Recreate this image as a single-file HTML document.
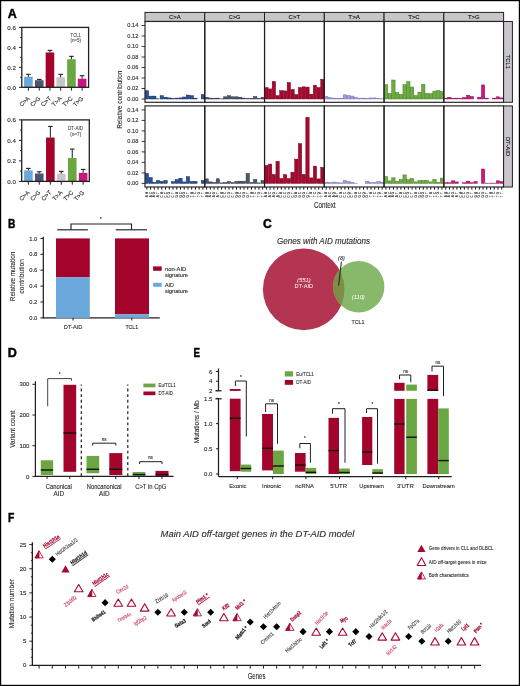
<!DOCTYPE html>
<html><head><meta charset="utf-8"><style>
html,body{margin:0;padding:0;background:#fff;overflow:hidden;}
svg{display:block;will-change:transform;}
text{font-family:"Liberation Sans", sans-serif;}
text.s{stroke-width:0.25px;}
</style></head><body>
<svg width="520" height="686" viewBox="0 0 520 686" font-family='"Liberation Sans", sans-serif'>
<rect x="0" y="0" width="520" height="686" fill="#fff"/>
<text x="7.7" y="17.6" font-size="12.4" font-weight="bold" fill="#000" textLength="9" lengthAdjust="spacingAndGlyphs" stroke="#000" stroke-width="0.45">A</text>
<text x="7.9" y="227.7" font-size="12.4" font-weight="bold" fill="#000" textLength="7.4" lengthAdjust="spacingAndGlyphs" stroke="#000" stroke-width="0.45">B</text>
<text x="262.9" y="228" font-size="12.4" font-weight="bold" fill="#000" textLength="8.8" lengthAdjust="spacingAndGlyphs" stroke="#000" stroke-width="0.45">C</text>
<text x="7.7" y="356.8" font-size="12.4" font-weight="bold" fill="#000" textLength="9.1" lengthAdjust="spacingAndGlyphs" stroke="#000" stroke-width="0.45">D</text>
<text x="193.5" y="356.8" font-size="12.4" font-weight="bold" fill="#000" textLength="6.5" lengthAdjust="spacingAndGlyphs" stroke="#000" stroke-width="0.45">E</text>
<text x="8" y="522.4" font-size="12.4" font-weight="bold" fill="#000" textLength="6.3" lengthAdjust="spacingAndGlyphs" stroke="#000" stroke-width="0.45">F</text>
<rect x="24.1" y="76.72" width="8.6" height="10.58" fill="#6aa8dc" />
<line x1="28.4" y1="76.72" x2="28.4" y2="74.32" stroke="#231f20" stroke-width="1" />
<line x1="26.1" y1="74.32" x2="30.7" y2="74.32" stroke="#231f20" stroke-width="1.1" />
<rect x="34.95" y="80.21" width="8.6" height="7.09" fill="#4b566c" />
<line x1="39.25" y1="80.21" x2="39.25" y2="79.41" stroke="#231f20" stroke-width="1" />
<line x1="36.95" y1="79.41" x2="41.55" y2="79.41" stroke="#231f20" stroke-width="1.1" />
<rect x="45.65" y="52.46" width="8.6" height="34.84" fill="#a3042b" />
<line x1="49.95" y1="52.46" x2="49.95" y2="50.36" stroke="#231f20" stroke-width="1" />
<line x1="47.65" y1="50.36" x2="52.25" y2="50.36" stroke="#231f20" stroke-width="1.1" />
<rect x="56.35" y="77.32" width="8.6" height="9.98" fill="#c8c6cb" />
<line x1="60.65" y1="77.32" x2="60.65" y2="74.32" stroke="#231f20" stroke-width="1" />
<line x1="58.35" y1="74.32" x2="62.95" y2="74.32" stroke="#231f20" stroke-width="1.1" />
<rect x="67.15" y="59.25" width="8.6" height="28.05" fill="#6aa642" />
<line x1="71.45" y1="59.25" x2="71.45" y2="56.35" stroke="#231f20" stroke-width="1" />
<line x1="69.15" y1="56.35" x2="73.75" y2="56.35" stroke="#231f20" stroke-width="1.1" />
<rect x="77.8" y="78.71" width="8.6" height="8.59" fill="#c8157f" />
<line x1="82.1" y1="78.71" x2="82.1" y2="75.72" stroke="#231f20" stroke-width="1" />
<line x1="79.8" y1="75.72" x2="84.4" y2="75.72" stroke="#231f20" stroke-width="1.1" />
<rect x="21.8" y="27.4" width="66.8" height="59.9" fill="none" stroke="#231f20" stroke-width="1.3" />
<line x1="19" y1="87.3" x2="21.8" y2="87.3" stroke="#231f20" stroke-width="1" />
<text x="15.9" y="89.5" font-size="6.2" text-anchor="end" fill="#2b2b2b" stroke="#2b2b2b" stroke-width="0.12" textLength="8.6" lengthAdjust="spacingAndGlyphs">0.0</text>
<line x1="20.2" y1="77.32" x2="21.8" y2="77.32" stroke="#231f20" stroke-width="1" />
<line x1="19" y1="67.33" x2="21.8" y2="67.33" stroke="#231f20" stroke-width="1" />
<text x="15.9" y="69.53" font-size="6.2" text-anchor="end" fill="#2b2b2b" stroke="#2b2b2b" stroke-width="0.12" textLength="8.6" lengthAdjust="spacingAndGlyphs">0.2</text>
<line x1="20.2" y1="57.35" x2="21.8" y2="57.35" stroke="#231f20" stroke-width="1" />
<line x1="19" y1="47.37" x2="21.8" y2="47.37" stroke="#231f20" stroke-width="1" />
<text x="15.9" y="49.57" font-size="6.2" text-anchor="end" fill="#2b2b2b" stroke="#2b2b2b" stroke-width="0.12" textLength="8.6" lengthAdjust="spacingAndGlyphs">0.4</text>
<line x1="20.2" y1="37.38" x2="21.8" y2="37.38" stroke="#231f20" stroke-width="1" />
<line x1="19" y1="27.4" x2="21.8" y2="27.4" stroke="#231f20" stroke-width="1" />
<text x="15.9" y="29.6" font-size="6.2" text-anchor="end" fill="#2b2b2b" stroke="#2b2b2b" stroke-width="0.12" textLength="8.6" lengthAdjust="spacingAndGlyphs">0.6</text>
<line x1="28.4" y1="87.3" x2="28.4" y2="90.6" stroke="#231f20" stroke-width="1" />
<text x="30" y="98.9" font-size="6" text-anchor="end" fill="#2b2b2b" stroke="#2b2b2b" stroke-width="0.12" transform="rotate(-45 30 98.9)" textLength="11.6" lengthAdjust="spacingAndGlyphs">C&gt;A</text>
<line x1="39.25" y1="87.3" x2="39.25" y2="90.6" stroke="#231f20" stroke-width="1" />
<text x="40.85" y="98.9" font-size="6" text-anchor="end" fill="#2b2b2b" stroke="#2b2b2b" stroke-width="0.12" transform="rotate(-45 40.85 98.9)" textLength="11.6" lengthAdjust="spacingAndGlyphs">C&gt;G</text>
<line x1="49.95" y1="87.3" x2="49.95" y2="90.6" stroke="#231f20" stroke-width="1" />
<text x="51.55" y="98.9" font-size="6" text-anchor="end" fill="#2b2b2b" stroke="#2b2b2b" stroke-width="0.12" transform="rotate(-45 51.55 98.9)" textLength="11.6" lengthAdjust="spacingAndGlyphs">C&gt;T</text>
<line x1="60.65" y1="87.3" x2="60.65" y2="90.6" stroke="#231f20" stroke-width="1" />
<text x="62.25" y="98.9" font-size="6" text-anchor="end" fill="#2b2b2b" stroke="#2b2b2b" stroke-width="0.12" transform="rotate(-45 62.25 98.9)" textLength="11.6" lengthAdjust="spacingAndGlyphs">T&gt;A</text>
<line x1="71.45" y1="87.3" x2="71.45" y2="90.6" stroke="#231f20" stroke-width="1" />
<text x="73.05" y="98.9" font-size="6" text-anchor="end" fill="#2b2b2b" stroke="#2b2b2b" stroke-width="0.12" transform="rotate(-45 73.05 98.9)" textLength="11.6" lengthAdjust="spacingAndGlyphs">T&gt;C</text>
<line x1="82.1" y1="87.3" x2="82.1" y2="90.6" stroke="#231f20" stroke-width="1" />
<text x="83.7" y="98.9" font-size="6" text-anchor="end" fill="#2b2b2b" stroke="#2b2b2b" stroke-width="0.12" transform="rotate(-45 83.7 98.9)" textLength="11.6" lengthAdjust="spacingAndGlyphs">T&gt;G</text>
<text x="70.6" y="36.8" font-size="4.8" fill="#555" stroke="#555" stroke-width="0.12" textLength="10.3" lengthAdjust="spacingAndGlyphs">TCL1</text>
<text x="70.4" y="42.4" font-size="4.8" fill="#555" stroke="#555" stroke-width="0.12" textLength="10.6" lengthAdjust="spacingAndGlyphs">(n=5)</text>
<rect x="24.1" y="170.43" width="8.6" height="10.97" fill="#6aa8dc" />
<line x1="28.4" y1="170.43" x2="28.4" y2="168.38" stroke="#231f20" stroke-width="1" />
<line x1="26.1" y1="168.38" x2="30.7" y2="168.38" stroke="#231f20" stroke-width="1.1" />
<rect x="34.95" y="173.51" width="8.6" height="7.89" fill="#4b566c" />
<line x1="39.25" y1="173.51" x2="39.25" y2="171.77" stroke="#231f20" stroke-width="1" />
<line x1="36.95" y1="171.77" x2="41.55" y2="171.77" stroke="#231f20" stroke-width="1.1" />
<rect x="46.05" y="137.53" width="8.6" height="43.87" fill="#a3042b" />
<line x1="50.35" y1="137.53" x2="50.35" y2="126.46" stroke="#231f20" stroke-width="1" />
<line x1="48.05" y1="126.46" x2="52.65" y2="126.46" stroke="#231f20" stroke-width="1.1" />
<rect x="56.95" y="173.71" width="8.6" height="7.69" fill="#c8c6cb" />
<line x1="61.25" y1="173.71" x2="61.25" y2="171.36" stroke="#231f20" stroke-width="1" />
<line x1="58.95" y1="171.36" x2="63.55" y2="171.36" stroke="#231f20" stroke-width="1.1" />
<rect x="67.95" y="158.03" width="8.6" height="23.37" fill="#6aa642" />
<line x1="72.25" y1="158.03" x2="72.25" y2="149.11" stroke="#231f20" stroke-width="1" />
<line x1="69.95" y1="149.11" x2="74.55" y2="149.11" stroke="#231f20" stroke-width="1.1" />
<rect x="78.85" y="172.89" width="8.6" height="8.51" fill="#c8157f" />
<line x1="83.15" y1="172.89" x2="83.15" y2="169.41" stroke="#231f20" stroke-width="1" />
<line x1="80.85" y1="169.41" x2="85.45" y2="169.41" stroke="#231f20" stroke-width="1.1" />
<rect x="21.7" y="119.9" width="67.6" height="61.5" fill="none" stroke="#231f20" stroke-width="1.3" />
<line x1="18.9" y1="181.4" x2="21.7" y2="181.4" stroke="#231f20" stroke-width="1" />
<text x="15.9" y="183.6" font-size="6.2" text-anchor="end" fill="#2b2b2b" stroke="#2b2b2b" stroke-width="0.12" textLength="8.6" lengthAdjust="spacingAndGlyphs">0.0</text>
<line x1="20.1" y1="171.15" x2="21.7" y2="171.15" stroke="#231f20" stroke-width="1" />
<line x1="18.9" y1="160.9" x2="21.7" y2="160.9" stroke="#231f20" stroke-width="1" />
<text x="15.9" y="163.1" font-size="6.2" text-anchor="end" fill="#2b2b2b" stroke="#2b2b2b" stroke-width="0.12" textLength="8.6" lengthAdjust="spacingAndGlyphs">0.2</text>
<line x1="20.1" y1="150.65" x2="21.7" y2="150.65" stroke="#231f20" stroke-width="1" />
<line x1="18.9" y1="140.4" x2="21.7" y2="140.4" stroke="#231f20" stroke-width="1" />
<text x="15.9" y="142.6" font-size="6.2" text-anchor="end" fill="#2b2b2b" stroke="#2b2b2b" stroke-width="0.12" textLength="8.6" lengthAdjust="spacingAndGlyphs">0.4</text>
<line x1="20.1" y1="130.15" x2="21.7" y2="130.15" stroke="#231f20" stroke-width="1" />
<line x1="18.9" y1="119.9" x2="21.7" y2="119.9" stroke="#231f20" stroke-width="1" />
<text x="15.9" y="122.1" font-size="6.2" text-anchor="end" fill="#2b2b2b" stroke="#2b2b2b" stroke-width="0.12" textLength="8.6" lengthAdjust="spacingAndGlyphs">0.6</text>
<line x1="28.4" y1="181.4" x2="28.4" y2="184.7" stroke="#231f20" stroke-width="1" />
<text x="30" y="193" font-size="6" text-anchor="end" fill="#2b2b2b" stroke="#2b2b2b" stroke-width="0.12" transform="rotate(-45 30 193)" textLength="11.6" lengthAdjust="spacingAndGlyphs">C&gt;A</text>
<line x1="39.25" y1="181.4" x2="39.25" y2="184.7" stroke="#231f20" stroke-width="1" />
<text x="40.85" y="193" font-size="6" text-anchor="end" fill="#2b2b2b" stroke="#2b2b2b" stroke-width="0.12" transform="rotate(-45 40.85 193)" textLength="11.6" lengthAdjust="spacingAndGlyphs">C&gt;G</text>
<line x1="50.35" y1="181.4" x2="50.35" y2="184.7" stroke="#231f20" stroke-width="1" />
<text x="51.95" y="193" font-size="6" text-anchor="end" fill="#2b2b2b" stroke="#2b2b2b" stroke-width="0.12" transform="rotate(-45 51.95 193)" textLength="11.6" lengthAdjust="spacingAndGlyphs">C&gt;T</text>
<line x1="61.25" y1="181.4" x2="61.25" y2="184.7" stroke="#231f20" stroke-width="1" />
<text x="62.85" y="193" font-size="6" text-anchor="end" fill="#2b2b2b" stroke="#2b2b2b" stroke-width="0.12" transform="rotate(-45 62.85 193)" textLength="11.6" lengthAdjust="spacingAndGlyphs">T&gt;A</text>
<line x1="72.25" y1="181.4" x2="72.25" y2="184.7" stroke="#231f20" stroke-width="1" />
<text x="73.85" y="193" font-size="6" text-anchor="end" fill="#2b2b2b" stroke="#2b2b2b" stroke-width="0.12" transform="rotate(-45 73.85 193)" textLength="11.6" lengthAdjust="spacingAndGlyphs">T&gt;C</text>
<line x1="83.15" y1="181.4" x2="83.15" y2="184.7" stroke="#231f20" stroke-width="1" />
<text x="84.75" y="193" font-size="6" text-anchor="end" fill="#2b2b2b" stroke="#2b2b2b" stroke-width="0.12" transform="rotate(-45 84.75 193)" textLength="11.6" lengthAdjust="spacingAndGlyphs">T&gt;G</text>
<text x="68" y="130" font-size="4.8" fill="#555" stroke="#555" stroke-width="0.12" textLength="15.1" lengthAdjust="spacingAndGlyphs">DT-AID</text>
<text x="70.2" y="135.6" font-size="4.8" fill="#555" stroke="#555" stroke-width="0.12" textLength="11" lengthAdjust="spacingAndGlyphs">(n=7)</text>
<rect x="145.2" y="90.7" width="3.34" height="8.3" fill="#2a5298" stroke="#0c2358" stroke-width="0.45" />
<rect x="148.94" y="96.1" width="3.34" height="2.9" fill="#2a5298" stroke="#0c2358" stroke-width="0.45" />
<rect x="152.67" y="96.1" width="3.34" height="2.9" fill="#2a5298" stroke="#0c2358" stroke-width="0.45" />
<rect x="156.41" y="98.8" width="3.34" height="0.2" fill="#2a5298" stroke="#0c2358" stroke-width="0.45" />
<rect x="160.14" y="95.7" width="3.34" height="3.3" fill="#2a5298" stroke="#0c2358" stroke-width="0.45" />
<rect x="163.88" y="97.2" width="3.34" height="1.8" fill="#2a5298" stroke="#0c2358" stroke-width="0.45" />
<rect x="167.61" y="97.9" width="3.34" height="1.1" fill="#2a5298" stroke="#0c2358" stroke-width="0.45" />
<rect x="171.35" y="98.5" width="3.34" height="0.5" fill="#2a5298" stroke="#0c2358" stroke-width="0.45" />
<rect x="175.08" y="98.1" width="3.34" height="0.9" fill="#2a5298" stroke="#0c2358" stroke-width="0.45" />
<rect x="178.82" y="97.9" width="3.34" height="1.1" fill="#2a5298" stroke="#0c2358" stroke-width="0.45" />
<rect x="182.55" y="97" width="3.34" height="2" fill="#2a5298" stroke="#0c2358" stroke-width="0.45" />
<rect x="186.29" y="95" width="3.34" height="4" fill="#2a5298" stroke="#0c2358" stroke-width="0.45" />
<rect x="190.02" y="95.7" width="3.34" height="3.3" fill="#2a5298" stroke="#0c2358" stroke-width="0.45" />
<rect x="193.76" y="98.1" width="3.34" height="0.9" fill="#2a5298" stroke="#0c2358" stroke-width="0.45" />
<rect x="197.5" y="99.1" width="3.34" height="-0.1" fill="#2a5298" stroke="#0c2358" stroke-width="0.45" />
<rect x="201.23" y="94.5" width="3.34" height="4.5" fill="#2a5298" stroke="#0c2358" stroke-width="0.45" />
<rect x="145" y="21.5" width="59.77" height="80.8" fill="none" stroke="#231f20" stroke-width="1.15" />
<rect x="204.97" y="97.2" width="3.34" height="1.8" fill="#4e586c" stroke="#23293a" stroke-width="0.45" />
<rect x="208.7" y="98.1" width="3.34" height="0.9" fill="#4e586c" stroke="#23293a" stroke-width="0.45" />
<rect x="212.44" y="98.4" width="3.34" height="0.6" fill="#4e586c" stroke="#23293a" stroke-width="0.45" />
<rect x="216.17" y="98.1" width="3.34" height="0.9" fill="#4e586c" stroke="#23293a" stroke-width="0.45" />
<rect x="219.91" y="98.8" width="3.34" height="0.2" fill="#4e586c" stroke="#23293a" stroke-width="0.45" />
<rect x="223.64" y="96.8" width="3.34" height="2.2" fill="#4e586c" stroke="#23293a" stroke-width="0.45" />
<rect x="227.38" y="95.7" width="3.34" height="3.3" fill="#4e586c" stroke="#23293a" stroke-width="0.45" />
<rect x="231.11" y="96.8" width="3.34" height="2.2" fill="#4e586c" stroke="#23293a" stroke-width="0.45" />
<rect x="234.85" y="96.8" width="3.34" height="2.2" fill="#4e586c" stroke="#23293a" stroke-width="0.45" />
<rect x="238.59" y="97.2" width="3.34" height="1.8" fill="#4e586c" stroke="#23293a" stroke-width="0.45" />
<rect x="242.32" y="98.1" width="3.34" height="0.9" fill="#4e586c" stroke="#23293a" stroke-width="0.45" />
<rect x="246.06" y="98.5" width="3.34" height="0.5" fill="#4e586c" stroke="#23293a" stroke-width="0.45" />
<rect x="249.79" y="98.5" width="3.34" height="0.5" fill="#4e586c" stroke="#23293a" stroke-width="0.45" />
<rect x="253.53" y="96.5" width="3.34" height="2.5" fill="#4e586c" stroke="#23293a" stroke-width="0.45" />
<rect x="257.26" y="98.5" width="3.34" height="0.5" fill="#4e586c" stroke="#23293a" stroke-width="0.45" />
<rect x="261" y="97.2" width="3.34" height="1.8" fill="#4e586c" stroke="#23293a" stroke-width="0.45" />
<rect x="204.77" y="21.5" width="59.77" height="80.8" fill="none" stroke="#231f20" stroke-width="1.15" />
<rect x="264.73" y="87.5" width="3.34" height="11.5" fill="#a8072f" stroke="#6a0018" stroke-width="0.45" />
<rect x="268.47" y="88.9" width="3.34" height="10.1" fill="#a8072f" stroke="#6a0018" stroke-width="0.45" />
<rect x="272.2" y="81.5" width="3.34" height="17.5" fill="#a8072f" stroke="#6a0018" stroke-width="0.45" />
<rect x="275.94" y="95.6" width="3.34" height="3.4" fill="#a8072f" stroke="#6a0018" stroke-width="0.45" />
<rect x="279.68" y="90.6" width="3.34" height="8.4" fill="#a8072f" stroke="#6a0018" stroke-width="0.45" />
<rect x="283.41" y="90.9" width="3.34" height="8.1" fill="#a8072f" stroke="#6a0018" stroke-width="0.45" />
<rect x="287.15" y="82.5" width="3.34" height="16.5" fill="#a8072f" stroke="#6a0018" stroke-width="0.45" />
<rect x="290.88" y="89.5" width="3.34" height="9.5" fill="#a8072f" stroke="#6a0018" stroke-width="0.45" />
<rect x="294.62" y="94.6" width="3.34" height="4.4" fill="#a8072f" stroke="#6a0018" stroke-width="0.45" />
<rect x="298.35" y="87.5" width="3.34" height="11.5" fill="#a8072f" stroke="#6a0018" stroke-width="0.45" />
<rect x="302.09" y="86.8" width="3.34" height="12.2" fill="#a8072f" stroke="#6a0018" stroke-width="0.45" />
<rect x="305.82" y="87.1" width="3.34" height="11.9" fill="#a8072f" stroke="#6a0018" stroke-width="0.45" />
<rect x="309.56" y="94.2" width="3.34" height="4.8" fill="#a8072f" stroke="#6a0018" stroke-width="0.45" />
<rect x="313.29" y="85.2" width="3.34" height="13.8" fill="#a8072f" stroke="#6a0018" stroke-width="0.45" />
<rect x="317.03" y="87.5" width="3.34" height="11.5" fill="#a8072f" stroke="#6a0018" stroke-width="0.45" />
<rect x="320.76" y="79.4" width="3.34" height="19.6" fill="#a8072f" stroke="#6a0018" stroke-width="0.45" />
<rect x="264.53" y="21.5" width="59.77" height="80.8" fill="none" stroke="#231f20" stroke-width="1.15" />
<rect x="324.5" y="96.5" width="3.34" height="2.5" fill="#a09cd8" stroke="#6e6ab0" stroke-width="0.45" />
<rect x="328.24" y="97.5" width="3.34" height="1.5" fill="#a09cd8" stroke="#6e6ab0" stroke-width="0.45" />
<rect x="331.97" y="98.1" width="3.34" height="0.9" fill="#a09cd8" stroke="#6e6ab0" stroke-width="0.45" />
<rect x="335.71" y="98.5" width="3.34" height="0.5" fill="#a09cd8" stroke="#6e6ab0" stroke-width="0.45" />
<rect x="339.44" y="98.4" width="3.34" height="0.6" fill="#a09cd8" stroke="#6e6ab0" stroke-width="0.45" />
<rect x="343.18" y="94.8" width="3.34" height="4.2" fill="#a09cd8" stroke="#6e6ab0" stroke-width="0.45" />
<rect x="346.91" y="95.6" width="3.34" height="3.4" fill="#a09cd8" stroke="#6e6ab0" stroke-width="0.45" />
<rect x="350.65" y="96.1" width="3.34" height="2.9" fill="#a09cd8" stroke="#6e6ab0" stroke-width="0.45" />
<rect x="354.38" y="97.5" width="3.34" height="1.5" fill="#a09cd8" stroke="#6e6ab0" stroke-width="0.45" />
<rect x="358.12" y="98.1" width="3.34" height="0.9" fill="#a09cd8" stroke="#6e6ab0" stroke-width="0.45" />
<rect x="361.85" y="98.1" width="3.34" height="0.9" fill="#a09cd8" stroke="#6e6ab0" stroke-width="0.45" />
<rect x="365.59" y="98.5" width="3.34" height="0.5" fill="#a09cd8" stroke="#6e6ab0" stroke-width="0.45" />
<rect x="369.32" y="97.9" width="3.34" height="1.1" fill="#a09cd8" stroke="#6e6ab0" stroke-width="0.45" />
<rect x="373.06" y="97.9" width="3.34" height="1.1" fill="#a09cd8" stroke="#6e6ab0" stroke-width="0.45" />
<rect x="376.8" y="98.5" width="3.34" height="0.5" fill="#a09cd8" stroke="#6e6ab0" stroke-width="0.45" />
<rect x="380.53" y="98.8" width="3.34" height="0.2" fill="#a09cd8" stroke="#6e6ab0" stroke-width="0.45" />
<rect x="324.3" y="21.5" width="59.77" height="80.8" fill="none" stroke="#231f20" stroke-width="1.15" />
<rect x="384.27" y="84.7" width="3.34" height="14.3" fill="#6dad40" stroke="#3b7220" stroke-width="0.45" />
<rect x="388" y="93.4" width="3.34" height="5.6" fill="#6dad40" stroke="#3b7220" stroke-width="0.45" />
<rect x="391.74" y="80" width="3.34" height="19" fill="#6dad40" stroke="#3b7220" stroke-width="0.45" />
<rect x="395.47" y="92.5" width="3.34" height="6.5" fill="#6dad40" stroke="#3b7220" stroke-width="0.45" />
<rect x="399.21" y="94.4" width="3.34" height="4.6" fill="#6dad40" stroke="#3b7220" stroke-width="0.45" />
<rect x="402.94" y="84.7" width="3.34" height="14.3" fill="#6dad40" stroke="#3b7220" stroke-width="0.45" />
<rect x="406.68" y="81.7" width="3.34" height="17.3" fill="#6dad40" stroke="#3b7220" stroke-width="0.45" />
<rect x="410.41" y="87" width="3.34" height="12" fill="#6dad40" stroke="#3b7220" stroke-width="0.45" />
<rect x="414.15" y="95.7" width="3.34" height="3.3" fill="#6dad40" stroke="#3b7220" stroke-width="0.45" />
<rect x="417.89" y="92.1" width="3.34" height="6.9" fill="#6dad40" stroke="#3b7220" stroke-width="0.45" />
<rect x="421.62" y="84.4" width="3.34" height="14.6" fill="#6dad40" stroke="#3b7220" stroke-width="0.45" />
<rect x="425.36" y="93.4" width="3.34" height="5.6" fill="#6dad40" stroke="#3b7220" stroke-width="0.45" />
<rect x="429.09" y="93.7" width="3.34" height="5.3" fill="#6dad40" stroke="#3b7220" stroke-width="0.45" />
<rect x="432.83" y="91.1" width="3.34" height="7.9" fill="#6dad40" stroke="#3b7220" stroke-width="0.45" />
<rect x="436.56" y="90.7" width="3.34" height="8.3" fill="#6dad40" stroke="#3b7220" stroke-width="0.45" />
<rect x="440.3" y="91.7" width="3.34" height="7.3" fill="#6dad40" stroke="#3b7220" stroke-width="0.45" />
<rect x="384.07" y="21.5" width="59.77" height="80.8" fill="none" stroke="#231f20" stroke-width="1.15" />
<rect x="444.03" y="98.1" width="3.34" height="0.9" fill="#cc1482" stroke="#8a0a55" stroke-width="0.45" />
<rect x="447.77" y="97.2" width="3.34" height="1.8" fill="#cc1482" stroke="#8a0a55" stroke-width="0.45" />
<rect x="451.5" y="98.5" width="3.34" height="0.5" fill="#cc1482" stroke="#8a0a55" stroke-width="0.45" />
<rect x="455.24" y="98.1" width="3.34" height="0.9" fill="#cc1482" stroke="#8a0a55" stroke-width="0.45" />
<rect x="458.98" y="98.5" width="3.34" height="0.5" fill="#cc1482" stroke="#8a0a55" stroke-width="0.45" />
<rect x="462.71" y="97.5" width="3.34" height="1.5" fill="#cc1482" stroke="#8a0a55" stroke-width="0.45" />
<rect x="466.45" y="95.2" width="3.34" height="3.8" fill="#cc1482" stroke="#8a0a55" stroke-width="0.45" />
<rect x="470.18" y="96.5" width="3.34" height="2.5" fill="#cc1482" stroke="#8a0a55" stroke-width="0.45" />
<rect x="477.65" y="97.2" width="3.34" height="1.8" fill="#cc1482" stroke="#8a0a55" stroke-width="0.45" />
<rect x="481.39" y="84.9" width="3.34" height="14.1" fill="#cc1482" stroke="#8a0a55" stroke-width="0.45" />
<rect x="485.12" y="98.1" width="3.34" height="0.9" fill="#cc1482" stroke="#8a0a55" stroke-width="0.45" />
<rect x="492.59" y="98.1" width="3.34" height="0.9" fill="#cc1482" stroke="#8a0a55" stroke-width="0.45" />
<rect x="496.33" y="96.8" width="3.34" height="2.2" fill="#cc1482" stroke="#8a0a55" stroke-width="0.45" />
<rect x="500.06" y="97.9" width="3.34" height="1.1" fill="#cc1482" stroke="#8a0a55" stroke-width="0.45" />
<rect x="443.83" y="21.5" width="59.77" height="80.8" fill="none" stroke="#231f20" stroke-width="1.15" />
<line x1="141.6" y1="99" x2="145" y2="99" stroke="#231f20" stroke-width="0.9" />
<text x="138.3" y="100.9" font-size="5.9" text-anchor="end" fill="#2b2b2b" stroke="#2b2b2b" stroke-width="0.12" textLength="11" lengthAdjust="spacingAndGlyphs">0.00</text>
<line x1="141.6" y1="88.5" x2="145" y2="88.5" stroke="#231f20" stroke-width="0.9" />
<text x="138.3" y="90.4" font-size="5.9" text-anchor="end" fill="#2b2b2b" stroke="#2b2b2b" stroke-width="0.12" textLength="11" lengthAdjust="spacingAndGlyphs">0.02</text>
<line x1="141.6" y1="78" x2="145" y2="78" stroke="#231f20" stroke-width="0.9" />
<text x="138.3" y="79.9" font-size="5.9" text-anchor="end" fill="#2b2b2b" stroke="#2b2b2b" stroke-width="0.12" textLength="11" lengthAdjust="spacingAndGlyphs">0.04</text>
<line x1="141.6" y1="67.5" x2="145" y2="67.5" stroke="#231f20" stroke-width="0.9" />
<text x="138.3" y="69.4" font-size="5.9" text-anchor="end" fill="#2b2b2b" stroke="#2b2b2b" stroke-width="0.12" textLength="11" lengthAdjust="spacingAndGlyphs">0.06</text>
<line x1="141.6" y1="57" x2="145" y2="57" stroke="#231f20" stroke-width="0.9" />
<text x="138.3" y="58.9" font-size="5.9" text-anchor="end" fill="#2b2b2b" stroke="#2b2b2b" stroke-width="0.12" textLength="11" lengthAdjust="spacingAndGlyphs">0.08</text>
<line x1="141.6" y1="46.5" x2="145" y2="46.5" stroke="#231f20" stroke-width="0.9" />
<text x="138.3" y="48.4" font-size="5.9" text-anchor="end" fill="#2b2b2b" stroke="#2b2b2b" stroke-width="0.12" textLength="11" lengthAdjust="spacingAndGlyphs">0.10</text>
<line x1="141.6" y1="36" x2="145" y2="36" stroke="#231f20" stroke-width="0.9" />
<text x="138.3" y="37.9" font-size="5.9" text-anchor="end" fill="#2b2b2b" stroke="#2b2b2b" stroke-width="0.12" textLength="11" lengthAdjust="spacingAndGlyphs">0.12</text>
<line x1="141.6" y1="25.5" x2="145" y2="25.5" stroke="#231f20" stroke-width="0.9" />
<text x="138.3" y="27.4" font-size="5.9" text-anchor="end" fill="#2b2b2b" stroke="#2b2b2b" stroke-width="0.12" textLength="11" lengthAdjust="spacingAndGlyphs">0.14</text>
<rect x="145.2" y="173.4" width="3.34" height="10" fill="#2a5298" stroke="#0c2358" stroke-width="0.45" />
<rect x="148.94" y="177.5" width="3.34" height="5.9" fill="#2a5298" stroke="#0c2358" stroke-width="0.45" />
<rect x="152.67" y="182.3" width="3.34" height="1.1" fill="#2a5298" stroke="#0c2358" stroke-width="0.45" />
<rect x="156.41" y="180.5" width="3.34" height="2.9" fill="#2a5298" stroke="#0c2358" stroke-width="0.45" />
<rect x="160.14" y="181.4" width="3.34" height="2" fill="#2a5298" stroke="#0c2358" stroke-width="0.45" />
<rect x="163.88" y="180.5" width="3.34" height="2.9" fill="#2a5298" stroke="#0c2358" stroke-width="0.45" />
<rect x="171.35" y="181.6" width="3.34" height="1.8" fill="#2a5298" stroke="#0c2358" stroke-width="0.45" />
<rect x="175.08" y="179.6" width="3.34" height="3.8" fill="#2a5298" stroke="#0c2358" stroke-width="0.45" />
<rect x="178.82" y="178.2" width="3.34" height="5.2" fill="#2a5298" stroke="#0c2358" stroke-width="0.45" />
<rect x="182.55" y="181.9" width="3.34" height="1.5" fill="#2a5298" stroke="#0c2358" stroke-width="0.45" />
<rect x="186.29" y="176.7" width="3.34" height="6.7" fill="#2a5298" stroke="#0c2358" stroke-width="0.45" />
<rect x="190.02" y="181.6" width="3.34" height="1.8" fill="#2a5298" stroke="#0c2358" stroke-width="0.45" />
<rect x="193.76" y="181.4" width="3.34" height="2" fill="#2a5298" stroke="#0c2358" stroke-width="0.45" />
<rect x="201.23" y="180.5" width="3.34" height="2.9" fill="#2a5298" stroke="#0c2358" stroke-width="0.45" />
<rect x="145" y="105.9" width="59.77" height="81.1" fill="none" stroke="#231f20" stroke-width="1.15" />
<rect x="204.97" y="178.9" width="3.34" height="4.5" fill="#4e586c" stroke="#23293a" stroke-width="0.45" />
<rect x="208.7" y="181.9" width="3.34" height="1.5" fill="#4e586c" stroke="#23293a" stroke-width="0.45" />
<rect x="212.44" y="182.5" width="3.34" height="0.9" fill="#4e586c" stroke="#23293a" stroke-width="0.45" />
<rect x="216.17" y="178.8" width="3.34" height="4.6" fill="#4e586c" stroke="#23293a" stroke-width="0.45" />
<rect x="219.91" y="182.9" width="3.34" height="0.5" fill="#4e586c" stroke="#23293a" stroke-width="0.45" />
<rect x="223.64" y="182.5" width="3.34" height="0.9" fill="#4e586c" stroke="#23293a" stroke-width="0.45" />
<rect x="227.38" y="181.6" width="3.34" height="1.8" fill="#4e586c" stroke="#23293a" stroke-width="0.45" />
<rect x="231.11" y="182.5" width="3.34" height="0.9" fill="#4e586c" stroke="#23293a" stroke-width="0.45" />
<rect x="234.85" y="181.4" width="3.34" height="2" fill="#4e586c" stroke="#23293a" stroke-width="0.45" />
<rect x="238.59" y="181.2" width="3.34" height="2.2" fill="#4e586c" stroke="#23293a" stroke-width="0.45" />
<rect x="242.32" y="181.2" width="3.34" height="2.2" fill="#4e586c" stroke="#23293a" stroke-width="0.45" />
<rect x="246.06" y="173.4" width="3.34" height="10" fill="#4e586c" stroke="#23293a" stroke-width="0.45" />
<rect x="249.79" y="182.5" width="3.34" height="0.9" fill="#4e586c" stroke="#23293a" stroke-width="0.45" />
<rect x="253.53" y="179.4" width="3.34" height="4" fill="#4e586c" stroke="#23293a" stroke-width="0.45" />
<rect x="257.26" y="182.9" width="3.34" height="0.5" fill="#4e586c" stroke="#23293a" stroke-width="0.45" />
<rect x="261" y="180.5" width="3.34" height="2.9" fill="#4e586c" stroke="#23293a" stroke-width="0.45" />
<rect x="204.77" y="105.9" width="59.77" height="81.1" fill="none" stroke="#231f20" stroke-width="1.15" />
<rect x="264.73" y="165.4" width="3.34" height="18" fill="#a8072f" stroke="#6a0018" stroke-width="0.45" />
<rect x="268.47" y="164.1" width="3.34" height="19.3" fill="#a8072f" stroke="#6a0018" stroke-width="0.45" />
<rect x="272.2" y="174.4" width="3.34" height="9" fill="#a8072f" stroke="#6a0018" stroke-width="0.45" />
<rect x="275.94" y="161.4" width="3.34" height="22" fill="#a8072f" stroke="#6a0018" stroke-width="0.45" />
<rect x="279.68" y="178.5" width="3.34" height="4.9" fill="#a8072f" stroke="#6a0018" stroke-width="0.45" />
<rect x="283.41" y="174.6" width="3.34" height="8.8" fill="#a8072f" stroke="#6a0018" stroke-width="0.45" />
<rect x="287.15" y="178.5" width="3.34" height="4.9" fill="#a8072f" stroke="#6a0018" stroke-width="0.45" />
<rect x="290.88" y="172.2" width="3.34" height="11.2" fill="#a8072f" stroke="#6a0018" stroke-width="0.45" />
<rect x="294.62" y="159.1" width="3.34" height="24.3" fill="#a8072f" stroke="#6a0018" stroke-width="0.45" />
<rect x="298.35" y="143.6" width="3.34" height="39.8" fill="#a8072f" stroke="#6a0018" stroke-width="0.45" />
<rect x="302.09" y="174.4" width="3.34" height="9" fill="#a8072f" stroke="#6a0018" stroke-width="0.45" />
<rect x="305.82" y="117.4" width="3.34" height="66" fill="#a8072f" stroke="#6a0018" stroke-width="0.45" />
<rect x="309.56" y="177.9" width="3.34" height="5.5" fill="#a8072f" stroke="#6a0018" stroke-width="0.45" />
<rect x="313.29" y="166.1" width="3.34" height="17.3" fill="#a8072f" stroke="#6a0018" stroke-width="0.45" />
<rect x="317.03" y="178.9" width="3.34" height="4.5" fill="#a8072f" stroke="#6a0018" stroke-width="0.45" />
<rect x="320.76" y="167.4" width="3.34" height="16" fill="#a8072f" stroke="#6a0018" stroke-width="0.45" />
<rect x="264.53" y="105.9" width="59.77" height="81.1" fill="none" stroke="#231f20" stroke-width="1.15" />
<rect x="324.5" y="182.1" width="3.34" height="1.3" fill="#a09cd8" stroke="#6e6ab0" stroke-width="0.45" />
<rect x="328.24" y="182.5" width="3.34" height="0.9" fill="#a09cd8" stroke="#6e6ab0" stroke-width="0.45" />
<rect x="331.97" y="182.1" width="3.34" height="1.3" fill="#a09cd8" stroke="#6e6ab0" stroke-width="0.45" />
<rect x="335.71" y="182.5" width="3.34" height="0.9" fill="#a09cd8" stroke="#6e6ab0" stroke-width="0.45" />
<rect x="339.44" y="182.9" width="3.34" height="0.5" fill="#a09cd8" stroke="#6e6ab0" stroke-width="0.45" />
<rect x="343.18" y="180.5" width="3.34" height="2.9" fill="#a09cd8" stroke="#6e6ab0" stroke-width="0.45" />
<rect x="346.91" y="181.6" width="3.34" height="1.8" fill="#a09cd8" stroke="#6e6ab0" stroke-width="0.45" />
<rect x="350.65" y="182.3" width="3.34" height="1.1" fill="#a09cd8" stroke="#6e6ab0" stroke-width="0.45" />
<rect x="354.38" y="183.2" width="3.34" height="0.2" fill="#a09cd8" stroke="#6e6ab0" stroke-width="0.45" />
<rect x="358.12" y="183.5" width="3.34" height="-0.1" fill="#a09cd8" stroke="#6e6ab0" stroke-width="0.45" />
<rect x="361.85" y="183.5" width="3.34" height="-0.1" fill="#a09cd8" stroke="#6e6ab0" stroke-width="0.45" />
<rect x="365.59" y="181.2" width="3.34" height="2.2" fill="#a09cd8" stroke="#6e6ab0" stroke-width="0.45" />
<rect x="369.32" y="182.5" width="3.34" height="0.9" fill="#a09cd8" stroke="#6e6ab0" stroke-width="0.45" />
<rect x="373.06" y="182.5" width="3.34" height="0.9" fill="#a09cd8" stroke="#6e6ab0" stroke-width="0.45" />
<rect x="376.8" y="181.6" width="3.34" height="1.8" fill="#a09cd8" stroke="#6e6ab0" stroke-width="0.45" />
<rect x="380.53" y="182.1" width="3.34" height="1.3" fill="#a09cd8" stroke="#6e6ab0" stroke-width="0.45" />
<rect x="324.3" y="105.9" width="59.77" height="81.1" fill="none" stroke="#231f20" stroke-width="1.15" />
<rect x="384.27" y="176.5" width="3.34" height="6.9" fill="#6dad40" stroke="#3b7220" stroke-width="0.45" />
<rect x="388" y="180.9" width="3.34" height="2.5" fill="#6dad40" stroke="#3b7220" stroke-width="0.45" />
<rect x="391.74" y="177.8" width="3.34" height="5.6" fill="#6dad40" stroke="#3b7220" stroke-width="0.45" />
<rect x="395.47" y="181.4" width="3.34" height="2" fill="#6dad40" stroke="#3b7220" stroke-width="0.45" />
<rect x="399.21" y="179.6" width="3.34" height="3.8" fill="#6dad40" stroke="#3b7220" stroke-width="0.45" />
<rect x="402.94" y="174.9" width="3.34" height="8.5" fill="#6dad40" stroke="#3b7220" stroke-width="0.45" />
<rect x="406.68" y="179.6" width="3.34" height="3.8" fill="#6dad40" stroke="#3b7220" stroke-width="0.45" />
<rect x="410.41" y="178.5" width="3.34" height="4.9" fill="#6dad40" stroke="#3b7220" stroke-width="0.45" />
<rect x="414.15" y="181.9" width="3.34" height="1.5" fill="#6dad40" stroke="#3b7220" stroke-width="0.45" />
<rect x="417.89" y="180.5" width="3.34" height="2.9" fill="#6dad40" stroke="#3b7220" stroke-width="0.45" />
<rect x="421.62" y="180.5" width="3.34" height="2.9" fill="#6dad40" stroke="#3b7220" stroke-width="0.45" />
<rect x="425.36" y="180.5" width="3.34" height="2.9" fill="#6dad40" stroke="#3b7220" stroke-width="0.45" />
<rect x="429.09" y="181.9" width="3.34" height="1.5" fill="#6dad40" stroke="#3b7220" stroke-width="0.45" />
<rect x="432.83" y="179.4" width="3.34" height="4" fill="#6dad40" stroke="#3b7220" stroke-width="0.45" />
<rect x="436.56" y="182.3" width="3.34" height="1.1" fill="#6dad40" stroke="#3b7220" stroke-width="0.45" />
<rect x="440.3" y="178.1" width="3.34" height="5.3" fill="#6dad40" stroke="#3b7220" stroke-width="0.45" />
<rect x="384.07" y="105.9" width="59.77" height="81.1" fill="none" stroke="#231f20" stroke-width="1.15" />
<rect x="444.03" y="182.7" width="3.34" height="0.7" fill="#cc1482" stroke="#8a0a55" stroke-width="0.45" />
<rect x="447.77" y="182.7" width="3.34" height="0.7" fill="#cc1482" stroke="#8a0a55" stroke-width="0.45" />
<rect x="451.5" y="180.8" width="3.34" height="2.6" fill="#cc1482" stroke="#8a0a55" stroke-width="0.45" />
<rect x="455.24" y="181.9" width="3.34" height="1.5" fill="#cc1482" stroke="#8a0a55" stroke-width="0.45" />
<rect x="462.71" y="182.7" width="3.34" height="0.7" fill="#cc1482" stroke="#8a0a55" stroke-width="0.45" />
<rect x="466.45" y="181.1" width="3.34" height="2.3" fill="#cc1482" stroke="#8a0a55" stroke-width="0.45" />
<rect x="470.18" y="182.7" width="3.34" height="0.7" fill="#cc1482" stroke="#8a0a55" stroke-width="0.45" />
<rect x="473.92" y="181.6" width="3.34" height="1.8" fill="#cc1482" stroke="#8a0a55" stroke-width="0.45" />
<rect x="481.39" y="169" width="3.34" height="14.4" fill="#cc1482" stroke="#8a0a55" stroke-width="0.45" />
<rect x="485.12" y="183.1" width="3.34" height="0.3" fill="#cc1482" stroke="#8a0a55" stroke-width="0.45" />
<rect x="488.86" y="183.1" width="3.34" height="0.3" fill="#cc1482" stroke="#8a0a55" stroke-width="0.45" />
<rect x="492.59" y="183.1" width="3.34" height="0.3" fill="#cc1482" stroke="#8a0a55" stroke-width="0.45" />
<rect x="496.33" y="180.8" width="3.34" height="2.6" fill="#cc1482" stroke="#8a0a55" stroke-width="0.45" />
<rect x="500.06" y="181.6" width="3.34" height="1.8" fill="#cc1482" stroke="#8a0a55" stroke-width="0.45" />
<rect x="443.83" y="105.9" width="59.77" height="81.1" fill="none" stroke="#231f20" stroke-width="1.15" />
<line x1="141.6" y1="183.4" x2="145" y2="183.4" stroke="#231f20" stroke-width="0.9" />
<text x="138.3" y="185.3" font-size="5.9" text-anchor="end" fill="#2b2b2b" stroke="#2b2b2b" stroke-width="0.12" textLength="11" lengthAdjust="spacingAndGlyphs">0.00</text>
<line x1="141.6" y1="172.9" x2="145" y2="172.9" stroke="#231f20" stroke-width="0.9" />
<text x="138.3" y="174.8" font-size="5.9" text-anchor="end" fill="#2b2b2b" stroke="#2b2b2b" stroke-width="0.12" textLength="11" lengthAdjust="spacingAndGlyphs">0.02</text>
<line x1="141.6" y1="162.4" x2="145" y2="162.4" stroke="#231f20" stroke-width="0.9" />
<text x="138.3" y="164.3" font-size="5.9" text-anchor="end" fill="#2b2b2b" stroke="#2b2b2b" stroke-width="0.12" textLength="11" lengthAdjust="spacingAndGlyphs">0.04</text>
<line x1="141.6" y1="151.9" x2="145" y2="151.9" stroke="#231f20" stroke-width="0.9" />
<text x="138.3" y="153.8" font-size="5.9" text-anchor="end" fill="#2b2b2b" stroke="#2b2b2b" stroke-width="0.12" textLength="11" lengthAdjust="spacingAndGlyphs">0.06</text>
<line x1="141.6" y1="141.4" x2="145" y2="141.4" stroke="#231f20" stroke-width="0.9" />
<text x="138.3" y="143.3" font-size="5.9" text-anchor="end" fill="#2b2b2b" stroke="#2b2b2b" stroke-width="0.12" textLength="11" lengthAdjust="spacingAndGlyphs">0.08</text>
<line x1="141.6" y1="130.9" x2="145" y2="130.9" stroke="#231f20" stroke-width="0.9" />
<text x="138.3" y="132.8" font-size="5.9" text-anchor="end" fill="#2b2b2b" stroke="#2b2b2b" stroke-width="0.12" textLength="11" lengthAdjust="spacingAndGlyphs">0.10</text>
<line x1="141.6" y1="120.4" x2="145" y2="120.4" stroke="#231f20" stroke-width="0.9" />
<text x="138.3" y="122.3" font-size="5.9" text-anchor="end" fill="#2b2b2b" stroke="#2b2b2b" stroke-width="0.12" textLength="11" lengthAdjust="spacingAndGlyphs">0.12</text>
<line x1="141.6" y1="109.9" x2="145" y2="109.9" stroke="#231f20" stroke-width="0.9" />
<text x="138.3" y="111.8" font-size="5.9" text-anchor="end" fill="#2b2b2b" stroke="#2b2b2b" stroke-width="0.12" textLength="11" lengthAdjust="spacingAndGlyphs">0.14</text>
<rect x="145" y="12.4" width="59.77" height="8.9" fill="#c8c6cb" stroke="#231f20" stroke-width="1" />
<text x="174.88" y="19" font-size="5.8" text-anchor="middle" fill="#111" stroke="#111" stroke-width="0.12" textLength="11.6" lengthAdjust="spacingAndGlyphs">C&gt;A</text>
<rect x="204.77" y="12.4" width="59.77" height="8.9" fill="#c8c6cb" stroke="#231f20" stroke-width="1" />
<text x="234.65" y="19" font-size="5.8" text-anchor="middle" fill="#111" stroke="#111" stroke-width="0.12" textLength="11.6" lengthAdjust="spacingAndGlyphs">C&gt;G</text>
<rect x="264.53" y="12.4" width="59.77" height="8.9" fill="#c8c6cb" stroke="#231f20" stroke-width="1" />
<text x="294.42" y="19" font-size="5.8" text-anchor="middle" fill="#111" stroke="#111" stroke-width="0.12" textLength="11.6" lengthAdjust="spacingAndGlyphs">C&gt;T</text>
<rect x="324.3" y="12.4" width="59.77" height="8.9" fill="#c8c6cb" stroke="#231f20" stroke-width="1" />
<text x="354.18" y="19" font-size="5.8" text-anchor="middle" fill="#111" stroke="#111" stroke-width="0.12" textLength="11.6" lengthAdjust="spacingAndGlyphs">T&gt;A</text>
<rect x="384.07" y="12.4" width="59.77" height="8.9" fill="#c8c6cb" stroke="#231f20" stroke-width="1" />
<text x="413.95" y="19" font-size="5.8" text-anchor="middle" fill="#111" stroke="#111" stroke-width="0.12" textLength="11.6" lengthAdjust="spacingAndGlyphs">T&gt;C</text>
<rect x="443.83" y="12.4" width="59.77" height="8.9" fill="#c8c6cb" stroke="#231f20" stroke-width="1" />
<text x="473.72" y="19" font-size="5.8" text-anchor="middle" fill="#111" stroke="#111" stroke-width="0.12" textLength="11.6" lengthAdjust="spacingAndGlyphs">T&gt;G</text>
<rect x="503.6" y="21.5" width="8.8" height="80.8" fill="#c8c6cb" stroke="#231f20" stroke-width="1" />
<text x="506" y="61.9" font-size="5.8" text-anchor="middle" fill="#111" stroke="#111" stroke-width="0.12" transform="rotate(90 506 61.9)">TCL1</text>
<rect x="503.6" y="105.9" width="8.8" height="81.1" fill="#c8c6cb" stroke="#231f20" stroke-width="1" />
<text x="506" y="146.45" font-size="5.8" text-anchor="middle" fill="#111" stroke="#111" stroke-width="0.12" transform="rotate(90 506 146.45)">DT-AID</text>
<line x1="146.87" y1="187.2" x2="146.87" y2="189.6" stroke="#111" stroke-width="1" />
<text x="147.92" y="193" font-size="3" text-anchor="middle" fill="#333" stroke="#333" stroke-width="0.12" transform="rotate(-90 147.92 193)">A</text>
<text x="147.92" y="196.3" font-size="3" text-anchor="middle" fill="#333" stroke="#333" stroke-width="0.12" transform="rotate(-90 147.92 196.3)">A</text>
<line x1="150.6" y1="187.2" x2="150.6" y2="189.6" stroke="#111" stroke-width="1" />
<text x="151.65" y="193" font-size="3" text-anchor="middle" fill="#333" stroke="#333" stroke-width="0.12" transform="rotate(-90 151.65 193)">C</text>
<text x="151.65" y="196.3" font-size="3" text-anchor="middle" fill="#333" stroke="#333" stroke-width="0.12" transform="rotate(-90 151.65 196.3)">A</text>
<line x1="154.34" y1="187.2" x2="154.34" y2="189.6" stroke="#111" stroke-width="1" />
<text x="155.39" y="193" font-size="3" text-anchor="middle" fill="#333" stroke="#333" stroke-width="0.12" transform="rotate(-90 155.39 193)">G</text>
<text x="155.39" y="196.3" font-size="3" text-anchor="middle" fill="#333" stroke="#333" stroke-width="0.12" transform="rotate(-90 155.39 196.3)">A</text>
<line x1="158.07" y1="187.2" x2="158.07" y2="189.6" stroke="#111" stroke-width="1" />
<text x="159.12" y="193" font-size="3" text-anchor="middle" fill="#333" stroke="#333" stroke-width="0.12" transform="rotate(-90 159.12 193)">T</text>
<text x="159.12" y="196.3" font-size="3" text-anchor="middle" fill="#333" stroke="#333" stroke-width="0.12" transform="rotate(-90 159.12 196.3)">A</text>
<line x1="161.81" y1="187.2" x2="161.81" y2="189.6" stroke="#111" stroke-width="1" />
<text x="162.86" y="193" font-size="3" text-anchor="middle" fill="#333" stroke="#333" stroke-width="0.12" transform="rotate(-90 162.86 193)">A</text>
<text x="162.86" y="196.3" font-size="3" text-anchor="middle" fill="#333" stroke="#333" stroke-width="0.12" transform="rotate(-90 162.86 196.3)">C</text>
<line x1="165.54" y1="187.2" x2="165.54" y2="189.6" stroke="#111" stroke-width="1" />
<text x="166.59" y="193" font-size="3" text-anchor="middle" fill="#333" stroke="#333" stroke-width="0.12" transform="rotate(-90 166.59 193)">C</text>
<text x="166.59" y="196.3" font-size="3" text-anchor="middle" fill="#333" stroke="#333" stroke-width="0.12" transform="rotate(-90 166.59 196.3)">C</text>
<line x1="169.28" y1="187.2" x2="169.28" y2="189.6" stroke="#111" stroke-width="1" />
<text x="170.33" y="193" font-size="3" text-anchor="middle" fill="#333" stroke="#333" stroke-width="0.12" transform="rotate(-90 170.33 193)">G</text>
<text x="170.33" y="196.3" font-size="3" text-anchor="middle" fill="#333" stroke="#333" stroke-width="0.12" transform="rotate(-90 170.33 196.3)">C</text>
<line x1="173.02" y1="187.2" x2="173.02" y2="189.6" stroke="#111" stroke-width="1" />
<text x="174.07" y="193" font-size="3" text-anchor="middle" fill="#333" stroke="#333" stroke-width="0.12" transform="rotate(-90 174.07 193)">T</text>
<text x="174.07" y="196.3" font-size="3" text-anchor="middle" fill="#333" stroke="#333" stroke-width="0.12" transform="rotate(-90 174.07 196.3)">C</text>
<line x1="176.75" y1="187.2" x2="176.75" y2="189.6" stroke="#111" stroke-width="1" />
<text x="177.8" y="193" font-size="3" text-anchor="middle" fill="#333" stroke="#333" stroke-width="0.12" transform="rotate(-90 177.8 193)">A</text>
<text x="177.8" y="196.3" font-size="3" text-anchor="middle" fill="#333" stroke="#333" stroke-width="0.12" transform="rotate(-90 177.8 196.3)">G</text>
<line x1="180.49" y1="187.2" x2="180.49" y2="189.6" stroke="#111" stroke-width="1" />
<text x="181.54" y="193" font-size="3" text-anchor="middle" fill="#333" stroke="#333" stroke-width="0.12" transform="rotate(-90 181.54 193)">C</text>
<text x="181.54" y="196.3" font-size="3" text-anchor="middle" fill="#333" stroke="#333" stroke-width="0.12" transform="rotate(-90 181.54 196.3)">G</text>
<line x1="184.22" y1="187.2" x2="184.22" y2="189.6" stroke="#111" stroke-width="1" />
<text x="185.27" y="193" font-size="3" text-anchor="middle" fill="#333" stroke="#333" stroke-width="0.12" transform="rotate(-90 185.27 193)">G</text>
<text x="185.27" y="196.3" font-size="3" text-anchor="middle" fill="#333" stroke="#333" stroke-width="0.12" transform="rotate(-90 185.27 196.3)">G</text>
<line x1="187.96" y1="187.2" x2="187.96" y2="189.6" stroke="#111" stroke-width="1" />
<text x="189.01" y="193" font-size="3" text-anchor="middle" fill="#333" stroke="#333" stroke-width="0.12" transform="rotate(-90 189.01 193)">T</text>
<text x="189.01" y="196.3" font-size="3" text-anchor="middle" fill="#333" stroke="#333" stroke-width="0.12" transform="rotate(-90 189.01 196.3)">G</text>
<line x1="191.69" y1="187.2" x2="191.69" y2="189.6" stroke="#111" stroke-width="1" />
<text x="192.74" y="193" font-size="3" text-anchor="middle" fill="#333" stroke="#333" stroke-width="0.12" transform="rotate(-90 192.74 193)">A</text>
<text x="192.74" y="196.3" font-size="3" text-anchor="middle" fill="#333" stroke="#333" stroke-width="0.12" transform="rotate(-90 192.74 196.3)">T</text>
<line x1="195.43" y1="187.2" x2="195.43" y2="189.6" stroke="#111" stroke-width="1" />
<text x="196.48" y="193" font-size="3" text-anchor="middle" fill="#333" stroke="#333" stroke-width="0.12" transform="rotate(-90 196.48 193)">C</text>
<text x="196.48" y="196.3" font-size="3" text-anchor="middle" fill="#333" stroke="#333" stroke-width="0.12" transform="rotate(-90 196.48 196.3)">T</text>
<line x1="199.16" y1="187.2" x2="199.16" y2="189.6" stroke="#111" stroke-width="1" />
<text x="200.21" y="193" font-size="3" text-anchor="middle" fill="#333" stroke="#333" stroke-width="0.12" transform="rotate(-90 200.21 193)">G</text>
<text x="200.21" y="196.3" font-size="3" text-anchor="middle" fill="#333" stroke="#333" stroke-width="0.12" transform="rotate(-90 200.21 196.3)">T</text>
<line x1="202.9" y1="187.2" x2="202.9" y2="189.6" stroke="#111" stroke-width="1" />
<text x="203.95" y="193" font-size="3" text-anchor="middle" fill="#333" stroke="#333" stroke-width="0.12" transform="rotate(-90 203.95 193)">T</text>
<text x="203.95" y="196.3" font-size="3" text-anchor="middle" fill="#333" stroke="#333" stroke-width="0.12" transform="rotate(-90 203.95 196.3)">T</text>
<line x1="206.63" y1="187.2" x2="206.63" y2="189.6" stroke="#111" stroke-width="1" />
<text x="207.68" y="193" font-size="3" text-anchor="middle" fill="#333" stroke="#333" stroke-width="0.12" transform="rotate(-90 207.68 193)">A</text>
<text x="207.68" y="196.3" font-size="3" text-anchor="middle" fill="#333" stroke="#333" stroke-width="0.12" transform="rotate(-90 207.68 196.3)">A</text>
<line x1="210.37" y1="187.2" x2="210.37" y2="189.6" stroke="#111" stroke-width="1" />
<text x="211.42" y="193" font-size="3" text-anchor="middle" fill="#333" stroke="#333" stroke-width="0.12" transform="rotate(-90 211.42 193)">C</text>
<text x="211.42" y="196.3" font-size="3" text-anchor="middle" fill="#333" stroke="#333" stroke-width="0.12" transform="rotate(-90 211.42 196.3)">A</text>
<line x1="214.11" y1="187.2" x2="214.11" y2="189.6" stroke="#111" stroke-width="1" />
<text x="215.16" y="193" font-size="3" text-anchor="middle" fill="#333" stroke="#333" stroke-width="0.12" transform="rotate(-90 215.16 193)">G</text>
<text x="215.16" y="196.3" font-size="3" text-anchor="middle" fill="#333" stroke="#333" stroke-width="0.12" transform="rotate(-90 215.16 196.3)">A</text>
<line x1="217.84" y1="187.2" x2="217.84" y2="189.6" stroke="#111" stroke-width="1" />
<text x="218.89" y="193" font-size="3" text-anchor="middle" fill="#333" stroke="#333" stroke-width="0.12" transform="rotate(-90 218.89 193)">T</text>
<text x="218.89" y="196.3" font-size="3" text-anchor="middle" fill="#333" stroke="#333" stroke-width="0.12" transform="rotate(-90 218.89 196.3)">A</text>
<line x1="221.58" y1="187.2" x2="221.58" y2="189.6" stroke="#111" stroke-width="1" />
<text x="222.63" y="193" font-size="3" text-anchor="middle" fill="#333" stroke="#333" stroke-width="0.12" transform="rotate(-90 222.63 193)">A</text>
<text x="222.63" y="196.3" font-size="3" text-anchor="middle" fill="#333" stroke="#333" stroke-width="0.12" transform="rotate(-90 222.63 196.3)">C</text>
<line x1="225.31" y1="187.2" x2="225.31" y2="189.6" stroke="#111" stroke-width="1" />
<text x="226.36" y="193" font-size="3" text-anchor="middle" fill="#333" stroke="#333" stroke-width="0.12" transform="rotate(-90 226.36 193)">C</text>
<text x="226.36" y="196.3" font-size="3" text-anchor="middle" fill="#333" stroke="#333" stroke-width="0.12" transform="rotate(-90 226.36 196.3)">C</text>
<line x1="229.05" y1="187.2" x2="229.05" y2="189.6" stroke="#111" stroke-width="1" />
<text x="230.1" y="193" font-size="3" text-anchor="middle" fill="#333" stroke="#333" stroke-width="0.12" transform="rotate(-90 230.1 193)">G</text>
<text x="230.1" y="196.3" font-size="3" text-anchor="middle" fill="#333" stroke="#333" stroke-width="0.12" transform="rotate(-90 230.1 196.3)">C</text>
<line x1="232.78" y1="187.2" x2="232.78" y2="189.6" stroke="#111" stroke-width="1" />
<text x="233.83" y="193" font-size="3" text-anchor="middle" fill="#333" stroke="#333" stroke-width="0.12" transform="rotate(-90 233.83 193)">T</text>
<text x="233.83" y="196.3" font-size="3" text-anchor="middle" fill="#333" stroke="#333" stroke-width="0.12" transform="rotate(-90 233.83 196.3)">C</text>
<line x1="236.52" y1="187.2" x2="236.52" y2="189.6" stroke="#111" stroke-width="1" />
<text x="237.57" y="193" font-size="3" text-anchor="middle" fill="#333" stroke="#333" stroke-width="0.12" transform="rotate(-90 237.57 193)">A</text>
<text x="237.57" y="196.3" font-size="3" text-anchor="middle" fill="#333" stroke="#333" stroke-width="0.12" transform="rotate(-90 237.57 196.3)">G</text>
<line x1="240.25" y1="187.2" x2="240.25" y2="189.6" stroke="#111" stroke-width="1" />
<text x="241.3" y="193" font-size="3" text-anchor="middle" fill="#333" stroke="#333" stroke-width="0.12" transform="rotate(-90 241.3 193)">C</text>
<text x="241.3" y="196.3" font-size="3" text-anchor="middle" fill="#333" stroke="#333" stroke-width="0.12" transform="rotate(-90 241.3 196.3)">G</text>
<line x1="243.99" y1="187.2" x2="243.99" y2="189.6" stroke="#111" stroke-width="1" />
<text x="245.04" y="193" font-size="3" text-anchor="middle" fill="#333" stroke="#333" stroke-width="0.12" transform="rotate(-90 245.04 193)">G</text>
<text x="245.04" y="196.3" font-size="3" text-anchor="middle" fill="#333" stroke="#333" stroke-width="0.12" transform="rotate(-90 245.04 196.3)">G</text>
<line x1="247.72" y1="187.2" x2="247.72" y2="189.6" stroke="#111" stroke-width="1" />
<text x="248.77" y="193" font-size="3" text-anchor="middle" fill="#333" stroke="#333" stroke-width="0.12" transform="rotate(-90 248.77 193)">T</text>
<text x="248.77" y="196.3" font-size="3" text-anchor="middle" fill="#333" stroke="#333" stroke-width="0.12" transform="rotate(-90 248.77 196.3)">G</text>
<line x1="251.46" y1="187.2" x2="251.46" y2="189.6" stroke="#111" stroke-width="1" />
<text x="252.51" y="193" font-size="3" text-anchor="middle" fill="#333" stroke="#333" stroke-width="0.12" transform="rotate(-90 252.51 193)">A</text>
<text x="252.51" y="196.3" font-size="3" text-anchor="middle" fill="#333" stroke="#333" stroke-width="0.12" transform="rotate(-90 252.51 196.3)">T</text>
<line x1="255.19" y1="187.2" x2="255.19" y2="189.6" stroke="#111" stroke-width="1" />
<text x="256.24" y="193" font-size="3" text-anchor="middle" fill="#333" stroke="#333" stroke-width="0.12" transform="rotate(-90 256.24 193)">C</text>
<text x="256.24" y="196.3" font-size="3" text-anchor="middle" fill="#333" stroke="#333" stroke-width="0.12" transform="rotate(-90 256.24 196.3)">T</text>
<line x1="258.93" y1="187.2" x2="258.93" y2="189.6" stroke="#111" stroke-width="1" />
<text x="259.98" y="193" font-size="3" text-anchor="middle" fill="#333" stroke="#333" stroke-width="0.12" transform="rotate(-90 259.98 193)">G</text>
<text x="259.98" y="196.3" font-size="3" text-anchor="middle" fill="#333" stroke="#333" stroke-width="0.12" transform="rotate(-90 259.98 196.3)">T</text>
<line x1="262.67" y1="187.2" x2="262.67" y2="189.6" stroke="#111" stroke-width="1" />
<text x="263.72" y="193" font-size="3" text-anchor="middle" fill="#333" stroke="#333" stroke-width="0.12" transform="rotate(-90 263.72 193)">T</text>
<text x="263.72" y="196.3" font-size="3" text-anchor="middle" fill="#333" stroke="#333" stroke-width="0.12" transform="rotate(-90 263.72 196.3)">T</text>
<line x1="266.4" y1="187.2" x2="266.4" y2="189.6" stroke="#111" stroke-width="1" />
<text x="267.45" y="193" font-size="3" text-anchor="middle" fill="#333" stroke="#333" stroke-width="0.12" transform="rotate(-90 267.45 193)">A</text>
<text x="267.45" y="196.3" font-size="3" text-anchor="middle" fill="#333" stroke="#333" stroke-width="0.12" transform="rotate(-90 267.45 196.3)">A</text>
<line x1="270.14" y1="187.2" x2="270.14" y2="189.6" stroke="#111" stroke-width="1" />
<text x="271.19" y="193" font-size="3" text-anchor="middle" fill="#333" stroke="#333" stroke-width="0.12" transform="rotate(-90 271.19 193)">C</text>
<text x="271.19" y="196.3" font-size="3" text-anchor="middle" fill="#333" stroke="#333" stroke-width="0.12" transform="rotate(-90 271.19 196.3)">A</text>
<line x1="273.87" y1="187.2" x2="273.87" y2="189.6" stroke="#111" stroke-width="1" />
<text x="274.92" y="193" font-size="3" text-anchor="middle" fill="#333" stroke="#333" stroke-width="0.12" transform="rotate(-90 274.92 193)">G</text>
<text x="274.92" y="196.3" font-size="3" text-anchor="middle" fill="#333" stroke="#333" stroke-width="0.12" transform="rotate(-90 274.92 196.3)">A</text>
<line x1="277.61" y1="187.2" x2="277.61" y2="189.6" stroke="#111" stroke-width="1" />
<text x="278.66" y="193" font-size="3" text-anchor="middle" fill="#333" stroke="#333" stroke-width="0.12" transform="rotate(-90 278.66 193)">T</text>
<text x="278.66" y="196.3" font-size="3" text-anchor="middle" fill="#333" stroke="#333" stroke-width="0.12" transform="rotate(-90 278.66 196.3)">A</text>
<line x1="281.34" y1="187.2" x2="281.34" y2="189.6" stroke="#111" stroke-width="1" />
<text x="282.39" y="193" font-size="3" text-anchor="middle" fill="#333" stroke="#333" stroke-width="0.12" transform="rotate(-90 282.39 193)">A</text>
<text x="282.39" y="196.3" font-size="3" text-anchor="middle" fill="#333" stroke="#333" stroke-width="0.12" transform="rotate(-90 282.39 196.3)">C</text>
<line x1="285.08" y1="187.2" x2="285.08" y2="189.6" stroke="#111" stroke-width="1" />
<text x="286.13" y="193" font-size="3" text-anchor="middle" fill="#333" stroke="#333" stroke-width="0.12" transform="rotate(-90 286.13 193)">C</text>
<text x="286.13" y="196.3" font-size="3" text-anchor="middle" fill="#333" stroke="#333" stroke-width="0.12" transform="rotate(-90 286.13 196.3)">C</text>
<line x1="288.81" y1="187.2" x2="288.81" y2="189.6" stroke="#111" stroke-width="1" />
<text x="289.86" y="193" font-size="3" text-anchor="middle" fill="#333" stroke="#333" stroke-width="0.12" transform="rotate(-90 289.86 193)">G</text>
<text x="289.86" y="196.3" font-size="3" text-anchor="middle" fill="#333" stroke="#333" stroke-width="0.12" transform="rotate(-90 289.86 196.3)">C</text>
<line x1="292.55" y1="187.2" x2="292.55" y2="189.6" stroke="#111" stroke-width="1" />
<text x="293.6" y="193" font-size="3" text-anchor="middle" fill="#333" stroke="#333" stroke-width="0.12" transform="rotate(-90 293.6 193)">T</text>
<text x="293.6" y="196.3" font-size="3" text-anchor="middle" fill="#333" stroke="#333" stroke-width="0.12" transform="rotate(-90 293.6 196.3)">C</text>
<line x1="296.28" y1="187.2" x2="296.28" y2="189.6" stroke="#111" stroke-width="1" />
<text x="297.33" y="193" font-size="3" text-anchor="middle" fill="#333" stroke="#333" stroke-width="0.12" transform="rotate(-90 297.33 193)">A</text>
<text x="297.33" y="196.3" font-size="3" text-anchor="middle" fill="#333" stroke="#333" stroke-width="0.12" transform="rotate(-90 297.33 196.3)">G</text>
<line x1="300.02" y1="187.2" x2="300.02" y2="189.6" stroke="#111" stroke-width="1" />
<text x="301.07" y="193" font-size="3" text-anchor="middle" fill="#333" stroke="#333" stroke-width="0.12" transform="rotate(-90 301.07 193)">C</text>
<text x="301.07" y="196.3" font-size="3" text-anchor="middle" fill="#333" stroke="#333" stroke-width="0.12" transform="rotate(-90 301.07 196.3)">G</text>
<line x1="303.76" y1="187.2" x2="303.76" y2="189.6" stroke="#111" stroke-width="1" />
<text x="304.81" y="193" font-size="3" text-anchor="middle" fill="#333" stroke="#333" stroke-width="0.12" transform="rotate(-90 304.81 193)">G</text>
<text x="304.81" y="196.3" font-size="3" text-anchor="middle" fill="#333" stroke="#333" stroke-width="0.12" transform="rotate(-90 304.81 196.3)">G</text>
<line x1="307.49" y1="187.2" x2="307.49" y2="189.6" stroke="#111" stroke-width="1" />
<text x="308.54" y="193" font-size="3" text-anchor="middle" fill="#333" stroke="#333" stroke-width="0.12" transform="rotate(-90 308.54 193)">T</text>
<text x="308.54" y="196.3" font-size="3" text-anchor="middle" fill="#333" stroke="#333" stroke-width="0.12" transform="rotate(-90 308.54 196.3)">G</text>
<line x1="311.23" y1="187.2" x2="311.23" y2="189.6" stroke="#111" stroke-width="1" />
<text x="312.28" y="193" font-size="3" text-anchor="middle" fill="#333" stroke="#333" stroke-width="0.12" transform="rotate(-90 312.28 193)">A</text>
<text x="312.28" y="196.3" font-size="3" text-anchor="middle" fill="#333" stroke="#333" stroke-width="0.12" transform="rotate(-90 312.28 196.3)">T</text>
<line x1="314.96" y1="187.2" x2="314.96" y2="189.6" stroke="#111" stroke-width="1" />
<text x="316.01" y="193" font-size="3" text-anchor="middle" fill="#333" stroke="#333" stroke-width="0.12" transform="rotate(-90 316.01 193)">C</text>
<text x="316.01" y="196.3" font-size="3" text-anchor="middle" fill="#333" stroke="#333" stroke-width="0.12" transform="rotate(-90 316.01 196.3)">T</text>
<line x1="318.7" y1="187.2" x2="318.7" y2="189.6" stroke="#111" stroke-width="1" />
<text x="319.75" y="193" font-size="3" text-anchor="middle" fill="#333" stroke="#333" stroke-width="0.12" transform="rotate(-90 319.75 193)">G</text>
<text x="319.75" y="196.3" font-size="3" text-anchor="middle" fill="#333" stroke="#333" stroke-width="0.12" transform="rotate(-90 319.75 196.3)">T</text>
<line x1="322.43" y1="187.2" x2="322.43" y2="189.6" stroke="#111" stroke-width="1" />
<text x="323.48" y="193" font-size="3" text-anchor="middle" fill="#333" stroke="#333" stroke-width="0.12" transform="rotate(-90 323.48 193)">T</text>
<text x="323.48" y="196.3" font-size="3" text-anchor="middle" fill="#333" stroke="#333" stroke-width="0.12" transform="rotate(-90 323.48 196.3)">T</text>
<line x1="326.17" y1="187.2" x2="326.17" y2="189.6" stroke="#111" stroke-width="1" />
<text x="327.22" y="193" font-size="3" text-anchor="middle" fill="#333" stroke="#333" stroke-width="0.12" transform="rotate(-90 327.22 193)">A</text>
<text x="327.22" y="196.3" font-size="3" text-anchor="middle" fill="#333" stroke="#333" stroke-width="0.12" transform="rotate(-90 327.22 196.3)">A</text>
<line x1="329.9" y1="187.2" x2="329.9" y2="189.6" stroke="#111" stroke-width="1" />
<text x="330.95" y="193" font-size="3" text-anchor="middle" fill="#333" stroke="#333" stroke-width="0.12" transform="rotate(-90 330.95 193)">C</text>
<text x="330.95" y="196.3" font-size="3" text-anchor="middle" fill="#333" stroke="#333" stroke-width="0.12" transform="rotate(-90 330.95 196.3)">A</text>
<line x1="333.64" y1="187.2" x2="333.64" y2="189.6" stroke="#111" stroke-width="1" />
<text x="334.69" y="193" font-size="3" text-anchor="middle" fill="#333" stroke="#333" stroke-width="0.12" transform="rotate(-90 334.69 193)">G</text>
<text x="334.69" y="196.3" font-size="3" text-anchor="middle" fill="#333" stroke="#333" stroke-width="0.12" transform="rotate(-90 334.69 196.3)">A</text>
<line x1="337.37" y1="187.2" x2="337.37" y2="189.6" stroke="#111" stroke-width="1" />
<text x="338.42" y="193" font-size="3" text-anchor="middle" fill="#333" stroke="#333" stroke-width="0.12" transform="rotate(-90 338.42 193)">T</text>
<text x="338.42" y="196.3" font-size="3" text-anchor="middle" fill="#333" stroke="#333" stroke-width="0.12" transform="rotate(-90 338.42 196.3)">A</text>
<line x1="341.11" y1="187.2" x2="341.11" y2="189.6" stroke="#111" stroke-width="1" />
<text x="342.16" y="193" font-size="3" text-anchor="middle" fill="#333" stroke="#333" stroke-width="0.12" transform="rotate(-90 342.16 193)">A</text>
<text x="342.16" y="196.3" font-size="3" text-anchor="middle" fill="#333" stroke="#333" stroke-width="0.12" transform="rotate(-90 342.16 196.3)">C</text>
<line x1="344.84" y1="187.2" x2="344.84" y2="189.6" stroke="#111" stroke-width="1" />
<text x="345.89" y="193" font-size="3" text-anchor="middle" fill="#333" stroke="#333" stroke-width="0.12" transform="rotate(-90 345.89 193)">C</text>
<text x="345.89" y="196.3" font-size="3" text-anchor="middle" fill="#333" stroke="#333" stroke-width="0.12" transform="rotate(-90 345.89 196.3)">C</text>
<line x1="348.58" y1="187.2" x2="348.58" y2="189.6" stroke="#111" stroke-width="1" />
<text x="349.63" y="193" font-size="3" text-anchor="middle" fill="#333" stroke="#333" stroke-width="0.12" transform="rotate(-90 349.63 193)">G</text>
<text x="349.63" y="196.3" font-size="3" text-anchor="middle" fill="#333" stroke="#333" stroke-width="0.12" transform="rotate(-90 349.63 196.3)">C</text>
<line x1="352.32" y1="187.2" x2="352.32" y2="189.6" stroke="#111" stroke-width="1" />
<text x="353.37" y="193" font-size="3" text-anchor="middle" fill="#333" stroke="#333" stroke-width="0.12" transform="rotate(-90 353.37 193)">T</text>
<text x="353.37" y="196.3" font-size="3" text-anchor="middle" fill="#333" stroke="#333" stroke-width="0.12" transform="rotate(-90 353.37 196.3)">C</text>
<line x1="356.05" y1="187.2" x2="356.05" y2="189.6" stroke="#111" stroke-width="1" />
<text x="357.1" y="193" font-size="3" text-anchor="middle" fill="#333" stroke="#333" stroke-width="0.12" transform="rotate(-90 357.1 193)">A</text>
<text x="357.1" y="196.3" font-size="3" text-anchor="middle" fill="#333" stroke="#333" stroke-width="0.12" transform="rotate(-90 357.1 196.3)">G</text>
<line x1="359.79" y1="187.2" x2="359.79" y2="189.6" stroke="#111" stroke-width="1" />
<text x="360.84" y="193" font-size="3" text-anchor="middle" fill="#333" stroke="#333" stroke-width="0.12" transform="rotate(-90 360.84 193)">C</text>
<text x="360.84" y="196.3" font-size="3" text-anchor="middle" fill="#333" stroke="#333" stroke-width="0.12" transform="rotate(-90 360.84 196.3)">G</text>
<line x1="363.52" y1="187.2" x2="363.52" y2="189.6" stroke="#111" stroke-width="1" />
<text x="364.57" y="193" font-size="3" text-anchor="middle" fill="#333" stroke="#333" stroke-width="0.12" transform="rotate(-90 364.57 193)">G</text>
<text x="364.57" y="196.3" font-size="3" text-anchor="middle" fill="#333" stroke="#333" stroke-width="0.12" transform="rotate(-90 364.57 196.3)">G</text>
<line x1="367.26" y1="187.2" x2="367.26" y2="189.6" stroke="#111" stroke-width="1" />
<text x="368.31" y="193" font-size="3" text-anchor="middle" fill="#333" stroke="#333" stroke-width="0.12" transform="rotate(-90 368.31 193)">T</text>
<text x="368.31" y="196.3" font-size="3" text-anchor="middle" fill="#333" stroke="#333" stroke-width="0.12" transform="rotate(-90 368.31 196.3)">G</text>
<line x1="370.99" y1="187.2" x2="370.99" y2="189.6" stroke="#111" stroke-width="1" />
<text x="372.04" y="193" font-size="3" text-anchor="middle" fill="#333" stroke="#333" stroke-width="0.12" transform="rotate(-90 372.04 193)">A</text>
<text x="372.04" y="196.3" font-size="3" text-anchor="middle" fill="#333" stroke="#333" stroke-width="0.12" transform="rotate(-90 372.04 196.3)">T</text>
<line x1="374.73" y1="187.2" x2="374.73" y2="189.6" stroke="#111" stroke-width="1" />
<text x="375.78" y="193" font-size="3" text-anchor="middle" fill="#333" stroke="#333" stroke-width="0.12" transform="rotate(-90 375.78 193)">C</text>
<text x="375.78" y="196.3" font-size="3" text-anchor="middle" fill="#333" stroke="#333" stroke-width="0.12" transform="rotate(-90 375.78 196.3)">T</text>
<line x1="378.46" y1="187.2" x2="378.46" y2="189.6" stroke="#111" stroke-width="1" />
<text x="379.51" y="193" font-size="3" text-anchor="middle" fill="#333" stroke="#333" stroke-width="0.12" transform="rotate(-90 379.51 193)">G</text>
<text x="379.51" y="196.3" font-size="3" text-anchor="middle" fill="#333" stroke="#333" stroke-width="0.12" transform="rotate(-90 379.51 196.3)">T</text>
<line x1="382.2" y1="187.2" x2="382.2" y2="189.6" stroke="#111" stroke-width="1" />
<text x="383.25" y="193" font-size="3" text-anchor="middle" fill="#333" stroke="#333" stroke-width="0.12" transform="rotate(-90 383.25 193)">T</text>
<text x="383.25" y="196.3" font-size="3" text-anchor="middle" fill="#333" stroke="#333" stroke-width="0.12" transform="rotate(-90 383.25 196.3)">T</text>
<line x1="385.93" y1="187.2" x2="385.93" y2="189.6" stroke="#111" stroke-width="1" />
<text x="386.98" y="193" font-size="3" text-anchor="middle" fill="#333" stroke="#333" stroke-width="0.12" transform="rotate(-90 386.98 193)">A</text>
<text x="386.98" y="196.3" font-size="3" text-anchor="middle" fill="#333" stroke="#333" stroke-width="0.12" transform="rotate(-90 386.98 196.3)">A</text>
<line x1="389.67" y1="187.2" x2="389.67" y2="189.6" stroke="#111" stroke-width="1" />
<text x="390.72" y="193" font-size="3" text-anchor="middle" fill="#333" stroke="#333" stroke-width="0.12" transform="rotate(-90 390.72 193)">C</text>
<text x="390.72" y="196.3" font-size="3" text-anchor="middle" fill="#333" stroke="#333" stroke-width="0.12" transform="rotate(-90 390.72 196.3)">A</text>
<line x1="393.41" y1="187.2" x2="393.41" y2="189.6" stroke="#111" stroke-width="1" />
<text x="394.46" y="193" font-size="3" text-anchor="middle" fill="#333" stroke="#333" stroke-width="0.12" transform="rotate(-90 394.46 193)">G</text>
<text x="394.46" y="196.3" font-size="3" text-anchor="middle" fill="#333" stroke="#333" stroke-width="0.12" transform="rotate(-90 394.46 196.3)">A</text>
<line x1="397.14" y1="187.2" x2="397.14" y2="189.6" stroke="#111" stroke-width="1" />
<text x="398.19" y="193" font-size="3" text-anchor="middle" fill="#333" stroke="#333" stroke-width="0.12" transform="rotate(-90 398.19 193)">T</text>
<text x="398.19" y="196.3" font-size="3" text-anchor="middle" fill="#333" stroke="#333" stroke-width="0.12" transform="rotate(-90 398.19 196.3)">A</text>
<line x1="400.88" y1="187.2" x2="400.88" y2="189.6" stroke="#111" stroke-width="1" />
<text x="401.93" y="193" font-size="3" text-anchor="middle" fill="#333" stroke="#333" stroke-width="0.12" transform="rotate(-90 401.93 193)">A</text>
<text x="401.93" y="196.3" font-size="3" text-anchor="middle" fill="#333" stroke="#333" stroke-width="0.12" transform="rotate(-90 401.93 196.3)">C</text>
<line x1="404.61" y1="187.2" x2="404.61" y2="189.6" stroke="#111" stroke-width="1" />
<text x="405.66" y="193" font-size="3" text-anchor="middle" fill="#333" stroke="#333" stroke-width="0.12" transform="rotate(-90 405.66 193)">C</text>
<text x="405.66" y="196.3" font-size="3" text-anchor="middle" fill="#333" stroke="#333" stroke-width="0.12" transform="rotate(-90 405.66 196.3)">C</text>
<line x1="408.35" y1="187.2" x2="408.35" y2="189.6" stroke="#111" stroke-width="1" />
<text x="409.4" y="193" font-size="3" text-anchor="middle" fill="#333" stroke="#333" stroke-width="0.12" transform="rotate(-90 409.4 193)">G</text>
<text x="409.4" y="196.3" font-size="3" text-anchor="middle" fill="#333" stroke="#333" stroke-width="0.12" transform="rotate(-90 409.4 196.3)">C</text>
<line x1="412.08" y1="187.2" x2="412.08" y2="189.6" stroke="#111" stroke-width="1" />
<text x="413.13" y="193" font-size="3" text-anchor="middle" fill="#333" stroke="#333" stroke-width="0.12" transform="rotate(-90 413.13 193)">T</text>
<text x="413.13" y="196.3" font-size="3" text-anchor="middle" fill="#333" stroke="#333" stroke-width="0.12" transform="rotate(-90 413.13 196.3)">C</text>
<line x1="415.82" y1="187.2" x2="415.82" y2="189.6" stroke="#111" stroke-width="1" />
<text x="416.87" y="193" font-size="3" text-anchor="middle" fill="#333" stroke="#333" stroke-width="0.12" transform="rotate(-90 416.87 193)">A</text>
<text x="416.87" y="196.3" font-size="3" text-anchor="middle" fill="#333" stroke="#333" stroke-width="0.12" transform="rotate(-90 416.87 196.3)">G</text>
<line x1="419.55" y1="187.2" x2="419.55" y2="189.6" stroke="#111" stroke-width="1" />
<text x="420.6" y="193" font-size="3" text-anchor="middle" fill="#333" stroke="#333" stroke-width="0.12" transform="rotate(-90 420.6 193)">C</text>
<text x="420.6" y="196.3" font-size="3" text-anchor="middle" fill="#333" stroke="#333" stroke-width="0.12" transform="rotate(-90 420.6 196.3)">G</text>
<line x1="423.29" y1="187.2" x2="423.29" y2="189.6" stroke="#111" stroke-width="1" />
<text x="424.34" y="193" font-size="3" text-anchor="middle" fill="#333" stroke="#333" stroke-width="0.12" transform="rotate(-90 424.34 193)">G</text>
<text x="424.34" y="196.3" font-size="3" text-anchor="middle" fill="#333" stroke="#333" stroke-width="0.12" transform="rotate(-90 424.34 196.3)">G</text>
<line x1="427.02" y1="187.2" x2="427.02" y2="189.6" stroke="#111" stroke-width="1" />
<text x="428.07" y="193" font-size="3" text-anchor="middle" fill="#333" stroke="#333" stroke-width="0.12" transform="rotate(-90 428.07 193)">T</text>
<text x="428.07" y="196.3" font-size="3" text-anchor="middle" fill="#333" stroke="#333" stroke-width="0.12" transform="rotate(-90 428.07 196.3)">G</text>
<line x1="430.76" y1="187.2" x2="430.76" y2="189.6" stroke="#111" stroke-width="1" />
<text x="431.81" y="193" font-size="3" text-anchor="middle" fill="#333" stroke="#333" stroke-width="0.12" transform="rotate(-90 431.81 193)">A</text>
<text x="431.81" y="196.3" font-size="3" text-anchor="middle" fill="#333" stroke="#333" stroke-width="0.12" transform="rotate(-90 431.81 196.3)">T</text>
<line x1="434.49" y1="187.2" x2="434.49" y2="189.6" stroke="#111" stroke-width="1" />
<text x="435.54" y="193" font-size="3" text-anchor="middle" fill="#333" stroke="#333" stroke-width="0.12" transform="rotate(-90 435.54 193)">C</text>
<text x="435.54" y="196.3" font-size="3" text-anchor="middle" fill="#333" stroke="#333" stroke-width="0.12" transform="rotate(-90 435.54 196.3)">T</text>
<line x1="438.23" y1="187.2" x2="438.23" y2="189.6" stroke="#111" stroke-width="1" />
<text x="439.28" y="193" font-size="3" text-anchor="middle" fill="#333" stroke="#333" stroke-width="0.12" transform="rotate(-90 439.28 193)">G</text>
<text x="439.28" y="196.3" font-size="3" text-anchor="middle" fill="#333" stroke="#333" stroke-width="0.12" transform="rotate(-90 439.28 196.3)">T</text>
<line x1="441.97" y1="187.2" x2="441.97" y2="189.6" stroke="#111" stroke-width="1" />
<text x="443.02" y="193" font-size="3" text-anchor="middle" fill="#333" stroke="#333" stroke-width="0.12" transform="rotate(-90 443.02 193)">T</text>
<text x="443.02" y="196.3" font-size="3" text-anchor="middle" fill="#333" stroke="#333" stroke-width="0.12" transform="rotate(-90 443.02 196.3)">T</text>
<line x1="445.7" y1="187.2" x2="445.7" y2="189.6" stroke="#111" stroke-width="1" />
<text x="446.75" y="193" font-size="3" text-anchor="middle" fill="#333" stroke="#333" stroke-width="0.12" transform="rotate(-90 446.75 193)">A</text>
<text x="446.75" y="196.3" font-size="3" text-anchor="middle" fill="#333" stroke="#333" stroke-width="0.12" transform="rotate(-90 446.75 196.3)">A</text>
<line x1="449.44" y1="187.2" x2="449.44" y2="189.6" stroke="#111" stroke-width="1" />
<text x="450.49" y="193" font-size="3" text-anchor="middle" fill="#333" stroke="#333" stroke-width="0.12" transform="rotate(-90 450.49 193)">C</text>
<text x="450.49" y="196.3" font-size="3" text-anchor="middle" fill="#333" stroke="#333" stroke-width="0.12" transform="rotate(-90 450.49 196.3)">A</text>
<line x1="453.17" y1="187.2" x2="453.17" y2="189.6" stroke="#111" stroke-width="1" />
<text x="454.22" y="193" font-size="3" text-anchor="middle" fill="#333" stroke="#333" stroke-width="0.12" transform="rotate(-90 454.22 193)">G</text>
<text x="454.22" y="196.3" font-size="3" text-anchor="middle" fill="#333" stroke="#333" stroke-width="0.12" transform="rotate(-90 454.22 196.3)">A</text>
<line x1="456.91" y1="187.2" x2="456.91" y2="189.6" stroke="#111" stroke-width="1" />
<text x="457.96" y="193" font-size="3" text-anchor="middle" fill="#333" stroke="#333" stroke-width="0.12" transform="rotate(-90 457.96 193)">T</text>
<text x="457.96" y="196.3" font-size="3" text-anchor="middle" fill="#333" stroke="#333" stroke-width="0.12" transform="rotate(-90 457.96 196.3)">A</text>
<line x1="460.64" y1="187.2" x2="460.64" y2="189.6" stroke="#111" stroke-width="1" />
<text x="461.69" y="193" font-size="3" text-anchor="middle" fill="#333" stroke="#333" stroke-width="0.12" transform="rotate(-90 461.69 193)">A</text>
<text x="461.69" y="196.3" font-size="3" text-anchor="middle" fill="#333" stroke="#333" stroke-width="0.12" transform="rotate(-90 461.69 196.3)">C</text>
<line x1="464.38" y1="187.2" x2="464.38" y2="189.6" stroke="#111" stroke-width="1" />
<text x="465.43" y="193" font-size="3" text-anchor="middle" fill="#333" stroke="#333" stroke-width="0.12" transform="rotate(-90 465.43 193)">C</text>
<text x="465.43" y="196.3" font-size="3" text-anchor="middle" fill="#333" stroke="#333" stroke-width="0.12" transform="rotate(-90 465.43 196.3)">C</text>
<line x1="468.11" y1="187.2" x2="468.11" y2="189.6" stroke="#111" stroke-width="1" />
<text x="469.16" y="193" font-size="3" text-anchor="middle" fill="#333" stroke="#333" stroke-width="0.12" transform="rotate(-90 469.16 193)">G</text>
<text x="469.16" y="196.3" font-size="3" text-anchor="middle" fill="#333" stroke="#333" stroke-width="0.12" transform="rotate(-90 469.16 196.3)">C</text>
<line x1="471.85" y1="187.2" x2="471.85" y2="189.6" stroke="#111" stroke-width="1" />
<text x="472.9" y="193" font-size="3" text-anchor="middle" fill="#333" stroke="#333" stroke-width="0.12" transform="rotate(-90 472.9 193)">T</text>
<text x="472.9" y="196.3" font-size="3" text-anchor="middle" fill="#333" stroke="#333" stroke-width="0.12" transform="rotate(-90 472.9 196.3)">C</text>
<line x1="475.58" y1="187.2" x2="475.58" y2="189.6" stroke="#111" stroke-width="1" />
<text x="476.63" y="193" font-size="3" text-anchor="middle" fill="#333" stroke="#333" stroke-width="0.12" transform="rotate(-90 476.63 193)">A</text>
<text x="476.63" y="196.3" font-size="3" text-anchor="middle" fill="#333" stroke="#333" stroke-width="0.12" transform="rotate(-90 476.63 196.3)">G</text>
<line x1="479.32" y1="187.2" x2="479.32" y2="189.6" stroke="#111" stroke-width="1" />
<text x="480.37" y="193" font-size="3" text-anchor="middle" fill="#333" stroke="#333" stroke-width="0.12" transform="rotate(-90 480.37 193)">C</text>
<text x="480.37" y="196.3" font-size="3" text-anchor="middle" fill="#333" stroke="#333" stroke-width="0.12" transform="rotate(-90 480.37 196.3)">G</text>
<line x1="483.06" y1="187.2" x2="483.06" y2="189.6" stroke="#111" stroke-width="1" />
<text x="484.11" y="193" font-size="3" text-anchor="middle" fill="#333" stroke="#333" stroke-width="0.12" transform="rotate(-90 484.11 193)">G</text>
<text x="484.11" y="196.3" font-size="3" text-anchor="middle" fill="#333" stroke="#333" stroke-width="0.12" transform="rotate(-90 484.11 196.3)">G</text>
<line x1="486.79" y1="187.2" x2="486.79" y2="189.6" stroke="#111" stroke-width="1" />
<text x="487.84" y="193" font-size="3" text-anchor="middle" fill="#333" stroke="#333" stroke-width="0.12" transform="rotate(-90 487.84 193)">T</text>
<text x="487.84" y="196.3" font-size="3" text-anchor="middle" fill="#333" stroke="#333" stroke-width="0.12" transform="rotate(-90 487.84 196.3)">G</text>
<line x1="490.53" y1="187.2" x2="490.53" y2="189.6" stroke="#111" stroke-width="1" />
<text x="491.58" y="193" font-size="3" text-anchor="middle" fill="#333" stroke="#333" stroke-width="0.12" transform="rotate(-90 491.58 193)">A</text>
<text x="491.58" y="196.3" font-size="3" text-anchor="middle" fill="#333" stroke="#333" stroke-width="0.12" transform="rotate(-90 491.58 196.3)">T</text>
<line x1="494.26" y1="187.2" x2="494.26" y2="189.6" stroke="#111" stroke-width="1" />
<text x="495.31" y="193" font-size="3" text-anchor="middle" fill="#333" stroke="#333" stroke-width="0.12" transform="rotate(-90 495.31 193)">C</text>
<text x="495.31" y="196.3" font-size="3" text-anchor="middle" fill="#333" stroke="#333" stroke-width="0.12" transform="rotate(-90 495.31 196.3)">T</text>
<line x1="498" y1="187.2" x2="498" y2="189.6" stroke="#111" stroke-width="1" />
<text x="499.05" y="193" font-size="3" text-anchor="middle" fill="#333" stroke="#333" stroke-width="0.12" transform="rotate(-90 499.05 193)">G</text>
<text x="499.05" y="196.3" font-size="3" text-anchor="middle" fill="#333" stroke="#333" stroke-width="0.12" transform="rotate(-90 499.05 196.3)">T</text>
<line x1="501.73" y1="187.2" x2="501.73" y2="189.6" stroke="#111" stroke-width="1" />
<text x="502.78" y="193" font-size="3" text-anchor="middle" fill="#333" stroke="#333" stroke-width="0.12" transform="rotate(-90 502.78 193)">T</text>
<text x="502.78" y="196.3" font-size="3" text-anchor="middle" fill="#333" stroke="#333" stroke-width="0.12" transform="rotate(-90 502.78 196.3)">T</text>
<text x="122.2" y="99.7" font-size="7.9" text-anchor="middle" fill="#2b2b2b" stroke="#2b2b2b" stroke-width="0.12" transform="rotate(-90 122.2 99.7)" textLength="58.3" lengthAdjust="spacingAndGlyphs">Relative contribution</text>
<text x="314" y="207.7" font-size="8.4" fill="#2b2b2b" stroke="#2b2b2b" stroke-width="0.12" textLength="21.5" lengthAdjust="spacingAndGlyphs">Context</text>
<line x1="43.3" y1="236.8" x2="43.3" y2="318.5" stroke="#231f20" stroke-width="1.25" />
<line x1="43.3" y1="317.9" x2="159.8" y2="317.9" stroke="#231f20" stroke-width="1.25" />
<line x1="40.4" y1="317.9" x2="43.3" y2="317.9" stroke="#231f20" stroke-width="1" />
<text x="37.2" y="320" font-size="6" text-anchor="end" fill="#2b2b2b" stroke="#2b2b2b" stroke-width="0.12" textLength="8" lengthAdjust="spacingAndGlyphs">0.0</text>
<line x1="40.4" y1="302" x2="43.3" y2="302" stroke="#231f20" stroke-width="1" />
<text x="37.2" y="304.1" font-size="6" text-anchor="end" fill="#2b2b2b" stroke="#2b2b2b" stroke-width="0.12" textLength="8" lengthAdjust="spacingAndGlyphs">0.2</text>
<line x1="40.4" y1="286.1" x2="43.3" y2="286.1" stroke="#231f20" stroke-width="1" />
<text x="37.2" y="288.2" font-size="6" text-anchor="end" fill="#2b2b2b" stroke="#2b2b2b" stroke-width="0.12" textLength="8" lengthAdjust="spacingAndGlyphs">0.4</text>
<line x1="40.4" y1="270.2" x2="43.3" y2="270.2" stroke="#231f20" stroke-width="1" />
<text x="37.2" y="272.3" font-size="6" text-anchor="end" fill="#2b2b2b" stroke="#2b2b2b" stroke-width="0.12" textLength="8" lengthAdjust="spacingAndGlyphs">0.6</text>
<line x1="40.4" y1="254.3" x2="43.3" y2="254.3" stroke="#231f20" stroke-width="1" />
<text x="37.2" y="256.4" font-size="6" text-anchor="end" fill="#2b2b2b" stroke="#2b2b2b" stroke-width="0.12" textLength="8" lengthAdjust="spacingAndGlyphs">0.8</text>
<line x1="40.4" y1="238.4" x2="43.3" y2="238.4" stroke="#231f20" stroke-width="1" />
<text x="37.2" y="240.5" font-size="6" text-anchor="end" fill="#2b2b2b" stroke="#2b2b2b" stroke-width="0.12" textLength="8" lengthAdjust="spacingAndGlyphs">1.0</text>
<rect x="56" y="238.4" width="33.8" height="38.95" fill="#a3042b" />
<rect x="56" y="277.35" width="33.8" height="40.55" fill="#6aa8dc" />
<rect x="115" y="238.4" width="34" height="75.92" fill="#a3042b" />
<rect x="115" y="314.32" width="34" height="3.58" fill="#6aa8dc" />
<line x1="73" y1="317.9" x2="73" y2="320.5" stroke="#231f20" stroke-width="1" />
<line x1="131.8" y1="317.9" x2="131.8" y2="320.5" stroke="#231f20" stroke-width="1" />
<text x="73.1" y="329.3" font-size="6" text-anchor="middle" fill="#2b2b2b" stroke="#2b2b2b" stroke-width="0.12" textLength="18.6" lengthAdjust="spacingAndGlyphs">DT-AID</text>
<text x="131.8" y="329.3" font-size="6" text-anchor="middle" fill="#2b2b2b" stroke="#2b2b2b" stroke-width="0.12" textLength="12.8" lengthAdjust="spacingAndGlyphs">TCL1</text>
<line x1="57.3" y1="229.8" x2="87.9" y2="229.8" stroke="#231f20" stroke-width="1.15" />
<line x1="115.8" y1="229.8" x2="147" y2="229.8" stroke="#231f20" stroke-width="1.15" />
<polyline points="71,229.8 71,224 131.5,224 131.5,229.8" fill="none" stroke="#231f20" stroke-width="1.15" />
<text x="101" y="221" font-size="4.5" text-anchor="middle" fill="#2b2b2b" stroke="#2b2b2b" stroke-width="0.12">*</text>
<rect x="153.1" y="266.4" width="8.6" height="4.4" fill="#a3042b" />
<rect x="153.1" y="282.8" width="8.6" height="4" fill="#6aa8dc" />
<text x="164.9" y="270.8" font-size="6" fill="#2b2b2b" stroke="#2b2b2b" stroke-width="0.12" textLength="21.4" lengthAdjust="spacingAndGlyphs">non-AID</text>
<text x="164.9" y="277.1" font-size="6" fill="#2b2b2b" stroke="#2b2b2b" stroke-width="0.12" textLength="23.1" lengthAdjust="spacingAndGlyphs">signature</text>
<text x="164.9" y="286.8" font-size="6" fill="#2b2b2b" stroke="#2b2b2b" stroke-width="0.12" textLength="9" lengthAdjust="spacingAndGlyphs">AID</text>
<text x="164.9" y="293.2" font-size="6" fill="#2b2b2b" stroke="#2b2b2b" stroke-width="0.12" textLength="23.1" lengthAdjust="spacingAndGlyphs">signature</text>
<text x="15.3" y="276.4" font-size="7.7" text-anchor="middle" fill="#2b2b2b" stroke="#2b2b2b" stroke-width="0.12" transform="rotate(-90 15.3 276.4)" textLength="49.5" lengthAdjust="spacingAndGlyphs">Relative mutation</text>
<text x="24.1" y="276.3" font-size="7.7" text-anchor="middle" fill="#2b2b2b" stroke="#2b2b2b" stroke-width="0.12" transform="rotate(-90 24.1 276.3)" textLength="34.7" lengthAdjust="spacingAndGlyphs">contribution</text>
<text x="277" y="243.5" font-size="8.8" font-style="italic" fill="#2b2b2b" stroke="#2b2b2b" stroke-width="0.12" textLength="93" lengthAdjust="spacingAndGlyphs">Genes with AID mutations</text>
<defs><clipPath id="cr"><circle cx="303.7" cy="289.4" r="40.8"/></clipPath></defs>
<circle cx="303.7" cy="289.4" r="40.8" fill="#b43552"/>
<circle cx="358.7" cy="286.7" r="25.7" fill="#88b86a"/>
<circle cx="358.7" cy="286.7" r="25.7" fill="#7e8e46" clip-path="url(#cr)"/>
<line x1="341.4" y1="261.6" x2="338.6" y2="285.6" stroke="#231f20" stroke-width="1" />
<text x="341.4" y="260.2" font-size="5.4" text-anchor="middle" font-style="italic" fill="#333" stroke="#333" stroke-width="0.12">(8)</text>
<text x="303.8" y="281.6" font-size="6.2" text-anchor="middle" font-style="italic" fill="#fff" textLength="13.6" lengthAdjust="spacingAndGlyphs">(551)</text>
<text x="303.8" y="288.4" font-size="6.2" text-anchor="middle" fill="#fff" textLength="18.4" lengthAdjust="spacingAndGlyphs">DT-AID</text>
<text x="358.3" y="299.2" font-size="6.2" text-anchor="middle" font-style="italic" fill="#fff" textLength="13" lengthAdjust="spacingAndGlyphs">(110)</text>
<text x="358" y="324.2" font-size="6.2" text-anchor="middle" fill="#2b2b2b" stroke="#2b2b2b" stroke-width="0.12" textLength="13" lengthAdjust="spacingAndGlyphs">TCL1</text>
<line x1="35.4" y1="381.3" x2="35.4" y2="477" stroke="#231f20" stroke-width="1.25" />
<line x1="35.4" y1="476.4" x2="173.5" y2="476.4" stroke="#231f20" stroke-width="1.25" />
<line x1="32.4" y1="476.4" x2="35.3" y2="476.4" stroke="#231f20" stroke-width="1" />
<text x="29.4" y="478.5" font-size="6" text-anchor="end" fill="#2b2b2b" stroke="#2b2b2b" stroke-width="0.12">0</text>
<line x1="32.4" y1="445.7" x2="35.3" y2="445.7" stroke="#231f20" stroke-width="1" />
<text x="29.4" y="447.8" font-size="6" text-anchor="end" fill="#2b2b2b" stroke="#2b2b2b" stroke-width="0.12">100</text>
<line x1="32.4" y1="415" x2="35.3" y2="415" stroke="#231f20" stroke-width="1" />
<text x="29.4" y="417.1" font-size="6" text-anchor="end" fill="#2b2b2b" stroke="#2b2b2b" stroke-width="0.12">200</text>
<line x1="32.4" y1="384.3" x2="35.3" y2="384.3" stroke="#231f20" stroke-width="1" />
<text x="29.4" y="386.4" font-size="6" text-anchor="end" fill="#2b2b2b" stroke="#2b2b2b" stroke-width="0.12">300</text>
<rect x="40.8" y="460.3" width="12.3" height="14.7" fill="#6aa642" />
<line x1="40.8" y1="470" x2="53.1" y2="470" stroke="#111" stroke-width="1.4" />
<rect x="63.5" y="384.8" width="12.7" height="87" fill="#a3042b" />
<line x1="63.5" y1="433" x2="76.2" y2="433" stroke="#111" stroke-width="1.4" />
<rect x="86.5" y="455.9" width="12.7" height="17.3" fill="#6aa642" />
<line x1="86.5" y1="469.3" x2="99.2" y2="469.3" stroke="#111" stroke-width="1.4" />
<rect x="109.3" y="453.1" width="13" height="21.9" fill="#a3042b" />
<line x1="109.3" y1="469.3" x2="122.3" y2="469.3" stroke="#111" stroke-width="1.4" />
<rect x="132.7" y="472" width="12.7" height="4" fill="#6aa642" />
<line x1="132.7" y1="474.6" x2="145.4" y2="474.6" stroke="#111" stroke-width="1.4" />
<rect x="155.5" y="470.9" width="13" height="5.1" fill="#a3042b" />
<line x1="155.5" y1="474.6" x2="168.5" y2="474.6" stroke="#111" stroke-width="1.4" />
<line x1="81.3" y1="384.6" x2="81.3" y2="476" stroke="#231f20" stroke-width="1.2" stroke-dasharray="2.9,2.75" stroke-dashoffset="1.7"/>
<line x1="127.8" y1="384.6" x2="127.8" y2="476" stroke="#231f20" stroke-width="1.2" stroke-dasharray="2.9,2.75" stroke-dashoffset="1.7"/>
<line x1="47" y1="476.4" x2="47" y2="479" stroke="#231f20" stroke-width="1" />
<line x1="69.8" y1="476.4" x2="69.8" y2="479" stroke="#231f20" stroke-width="1" />
<line x1="92.8" y1="476.4" x2="92.8" y2="479" stroke="#231f20" stroke-width="1" />
<line x1="115.8" y1="476.4" x2="115.8" y2="479" stroke="#231f20" stroke-width="1" />
<line x1="139" y1="476.4" x2="139" y2="479" stroke="#231f20" stroke-width="1" />
<line x1="162" y1="476.4" x2="162" y2="479" stroke="#231f20" stroke-width="1" />
<polyline points="47.7,406.3 47.7,378.6 71.5,378.6 71.5,380.6" fill="none" stroke="#444" stroke-width="1" />
<text x="59.6" y="375.6" font-size="4.5" text-anchor="middle" fill="#2b2b2b" stroke="#2b2b2b" stroke-width="0.12">*</text>
<polyline points="92.7,445.5 92.7,443.2 115.8,443.2 115.8,445.5" fill="none" stroke="#231f20" stroke-width="1" />
<text x="104.2" y="440.6" font-size="4.6" text-anchor="middle" fill="#333" stroke="#333" stroke-width="0.12">ns</text>
<polyline points="139.6,464 139.6,461.7 162,461.7 162,464" fill="none" stroke="#231f20" stroke-width="1" />
<text x="150.4" y="459.2" font-size="4.6" text-anchor="middle" fill="#333" stroke="#333" stroke-width="0.12">ns</text>
<rect x="143.4" y="383.6" width="12" height="3.7" fill="#6aa642" />
<rect x="143.4" y="391.5" width="12" height="3.7" fill="#a3042b" />
<text x="158.5" y="387.3" font-size="5.4" fill="#333" stroke="#333" stroke-width="0.12" textLength="17.2" lengthAdjust="spacingAndGlyphs">Eu/TCL1</text>
<text x="158.5" y="395.2" font-size="5.4" fill="#333" stroke="#333" stroke-width="0.12" textLength="14.5" lengthAdjust="spacingAndGlyphs">DT-AID</text>
<text x="58.8" y="489" font-size="6.3" text-anchor="middle" fill="#2b2b2b" stroke="#2b2b2b" stroke-width="0.12" textLength="25.9" lengthAdjust="spacingAndGlyphs">Canonical</text>
<text x="58.8" y="495.6" font-size="6.3" text-anchor="middle" fill="#2b2b2b" stroke="#2b2b2b" stroke-width="0.12">AID</text>
<text x="104.2" y="489" font-size="6.3" text-anchor="middle" fill="#2b2b2b" stroke="#2b2b2b" stroke-width="0.12" textLength="34.8" lengthAdjust="spacingAndGlyphs">Noncanonical</text>
<text x="104.2" y="495.6" font-size="6.3" text-anchor="middle" fill="#2b2b2b" stroke="#2b2b2b" stroke-width="0.12">AID</text>
<text x="150.7" y="489" font-size="6.3" text-anchor="middle" fill="#2b2b2b" stroke="#2b2b2b" stroke-width="0.12" textLength="31.1" lengthAdjust="spacingAndGlyphs">C&gt;T in CpG</text>
<text x="14.9" y="429.2" font-size="7.8" text-anchor="middle" fill="#2b2b2b" stroke="#2b2b2b" stroke-width="0.12" transform="rotate(-90 14.9 429.2)" textLength="37.2" lengthAdjust="spacingAndGlyphs">Variant count</text>
<line x1="218.5" y1="368.5" x2="218.5" y2="390.8" stroke="#231f20" stroke-width="1.25" />
<line x1="218.5" y1="398.8" x2="218.5" y2="476.5" stroke="#231f20" stroke-width="1.25" />
<line x1="218.5" y1="476.5" x2="451.7" y2="476.5" stroke="#231f20" stroke-width="1.25" />
<line x1="215.4" y1="390.8" x2="221.6" y2="390.8" stroke="#231f20" stroke-width="1.25" />
<line x1="215.4" y1="398.8" x2="221.6" y2="398.8" stroke="#231f20" stroke-width="1.25" />
<line x1="216" y1="371.5" x2="218.5" y2="371.5" stroke="#231f20" stroke-width="1" />
<text x="212.4" y="373.6" font-size="6" text-anchor="end" fill="#2b2b2b" stroke="#2b2b2b" stroke-width="0.12">6</text>
<line x1="216" y1="381.2" x2="218.5" y2="381.2" stroke="#231f20" stroke-width="1" />
<text x="212.4" y="383.3" font-size="6" text-anchor="end" fill="#2b2b2b" stroke="#2b2b2b" stroke-width="0.12">4</text>
<line x1="216" y1="390.6" x2="218.5" y2="390.6" stroke="#231f20" stroke-width="1" />
<text x="212.4" y="392.7" font-size="6" text-anchor="end" fill="#2b2b2b" stroke="#2b2b2b" stroke-width="0.12">2</text>
<line x1="216" y1="474" x2="218.5" y2="474" stroke="#231f20" stroke-width="1" />
<text x="212.4" y="476.1" font-size="6" text-anchor="end" fill="#2b2b2b" stroke="#2b2b2b" stroke-width="0.12">0.0</text>
<line x1="216" y1="448.8" x2="218.5" y2="448.8" stroke="#231f20" stroke-width="1" />
<text x="212.4" y="450.9" font-size="6" text-anchor="end" fill="#2b2b2b" stroke="#2b2b2b" stroke-width="0.12">0.5</text>
<line x1="216" y1="423.6" x2="218.5" y2="423.6" stroke="#231f20" stroke-width="1" />
<text x="212.4" y="425.7" font-size="6" text-anchor="end" fill="#2b2b2b" stroke="#2b2b2b" stroke-width="0.12">1.0</text>
<line x1="216" y1="398.4" x2="218.5" y2="398.4" stroke="#231f20" stroke-width="1" />
<text x="212.4" y="400.5" font-size="6" text-anchor="end" fill="#2b2b2b" stroke="#2b2b2b" stroke-width="0.12">1.5</text>
<rect x="229.8" y="398.7" width="10.8" height="72.5" fill="#a3042b" />
<line x1="229.8" y1="418.3" x2="240.6" y2="418.3" stroke="#111" stroke-width="1.4" />
<rect x="229.8" y="389" width="10.8" height="1.9" fill="#a3042b" />
<rect x="240.6" y="464.6" width="10.6" height="7.1" fill="#6aa642" />
<line x1="240.6" y1="468.5" x2="251.2" y2="468.5" stroke="#111" stroke-width="1.4" />
<rect x="262.1" y="414" width="10.9" height="56.4" fill="#a3042b" />
<line x1="262.1" y1="448.3" x2="273" y2="448.3" stroke="#111" stroke-width="1.4" />
<rect x="273" y="450.6" width="10.8" height="23.4" fill="#6aa642" />
<line x1="273" y1="466" x2="283.8" y2="466" stroke="#111" stroke-width="1.4" />
<rect x="295" y="453" width="10.6" height="18.7" fill="#a3042b" />
<line x1="295" y1="465" x2="305.6" y2="465" stroke="#111" stroke-width="1.4" />
<rect x="305.6" y="467.9" width="10.6" height="6.1" fill="#6aa642" />
<line x1="305.6" y1="472.3" x2="316.2" y2="472.3" stroke="#111" stroke-width="1.4" />
<rect x="328.5" y="417.9" width="10.5" height="56.1" fill="#a3042b" />
<line x1="328.5" y1="450.6" x2="339" y2="450.6" stroke="#111" stroke-width="1.4" />
<rect x="339" y="468.5" width="10.8" height="5.5" fill="#6aa642" />
<line x1="339" y1="472.5" x2="349.8" y2="472.5" stroke="#111" stroke-width="1.4" />
<rect x="362.1" y="417" width="10.2" height="48" fill="#a3042b" />
<line x1="362.1" y1="452" x2="372.3" y2="452" stroke="#111" stroke-width="1.4" />
<rect x="372.3" y="469.2" width="10.7" height="4.8" fill="#6aa642" />
<line x1="372.3" y1="473" x2="383" y2="473" stroke="#111" stroke-width="1.4" />
<rect x="394.2" y="398.9" width="10.4" height="75.1" fill="#a3042b" />
<line x1="394.2" y1="424" x2="404.6" y2="424" stroke="#111" stroke-width="1.4" />
<rect x="394.2" y="382.8" width="10.4" height="8" fill="#a3042b" />
<rect x="406.2" y="398.9" width="10.7" height="75.1" fill="#6aa642" />
<line x1="406.2" y1="437.2" x2="416.9" y2="437.2" stroke="#111" stroke-width="1.4" />
<rect x="406.2" y="384.6" width="10.7" height="6.2" fill="#6aa642" />
<rect x="427.4" y="398.9" width="10.8" height="75.1" fill="#a3042b" />
<rect x="427.4" y="374.9" width="10.8" height="15.9" fill="#a3042b" />
<line x1="427.4" y1="390.2" x2="438.2" y2="390.2" stroke="#111" stroke-width="1.4" />
<rect x="438.2" y="408.4" width="10.6" height="65.6" fill="#6aa642" />
<line x1="438.2" y1="460.6" x2="448.8" y2="460.6" stroke="#111" stroke-width="1.4" />
<line x1="237.3" y1="476.5" x2="237.3" y2="479.2" stroke="#231f20" stroke-width="1" />
<line x1="272.7" y1="476.5" x2="272.7" y2="479.2" stroke="#231f20" stroke-width="1" />
<line x1="305.9" y1="476.5" x2="305.9" y2="479.2" stroke="#231f20" stroke-width="1" />
<line x1="339.5" y1="476.5" x2="339.5" y2="479.2" stroke="#231f20" stroke-width="1" />
<line x1="372.5" y1="476.5" x2="372.5" y2="479.2" stroke="#231f20" stroke-width="1" />
<line x1="405.75" y1="476.5" x2="405.75" y2="479.2" stroke="#231f20" stroke-width="1" />
<line x1="438.75" y1="476.5" x2="438.75" y2="479.2" stroke="#231f20" stroke-width="1" />
<text x="237.8" y="487.9" font-size="6" text-anchor="middle" fill="#2b2b2b" stroke="#2b2b2b" stroke-width="0.12" textLength="17" lengthAdjust="spacingAndGlyphs">Exonic</text>
<text x="271.5" y="487.9" font-size="6" text-anchor="middle" fill="#2b2b2b" stroke="#2b2b2b" stroke-width="0.12" textLength="18.9" lengthAdjust="spacingAndGlyphs">Intronic</text>
<text x="304.6" y="487.9" font-size="6" text-anchor="middle" fill="#2b2b2b" stroke="#2b2b2b" stroke-width="0.12" textLength="18.5" lengthAdjust="spacingAndGlyphs">ncRNA</text>
<text x="338.6" y="487.9" font-size="6" text-anchor="middle" fill="#2b2b2b" stroke="#2b2b2b" stroke-width="0.12" textLength="16.8" lengthAdjust="spacingAndGlyphs">5'UTR</text>
<text x="371.6" y="487.9" font-size="6" text-anchor="middle" fill="#2b2b2b" stroke="#2b2b2b" stroke-width="0.12" textLength="24.5" lengthAdjust="spacingAndGlyphs">Upstream</text>
<text x="405.4" y="487.9" font-size="6" text-anchor="middle" fill="#2b2b2b" stroke="#2b2b2b" stroke-width="0.12" textLength="16.8" lengthAdjust="spacingAndGlyphs">3'UTR</text>
<text x="438.6" y="487.9" font-size="6" text-anchor="middle" fill="#2b2b2b" stroke="#2b2b2b" stroke-width="0.12" textLength="32.3" lengthAdjust="spacingAndGlyphs">Downstream</text>
<polyline points="235.4,386 235.4,381 246.3,381 246.3,436.5" fill="none" stroke="#231f20" stroke-width="1" />
<text x="240.9" y="378.6" font-size="4.5" text-anchor="middle" fill="#2b2b2b" stroke="#2b2b2b" stroke-width="0.12">*</text>
<polyline points="265.6,412 265.6,403.8 277.5,403.8 277.5,443.8" fill="none" stroke="#231f20" stroke-width="1" />
<text x="271.7" y="401.8" font-size="4.6" text-anchor="middle" fill="#333" stroke="#333" stroke-width="0.12">ns</text>
<polyline points="299.8,448.3 299.8,443.5 310.4,443.5 310.4,462.7" fill="none" stroke="#231f20" stroke-width="1" />
<text x="304.8" y="440.4" font-size="4.5" text-anchor="middle" fill="#2b2b2b" stroke="#2b2b2b" stroke-width="0.12">*</text>
<polyline points="332.5,413.7 332.5,408.7 345,408.7 345,462.7" fill="none" stroke="#231f20" stroke-width="1" />
<text x="339" y="406.2" font-size="4.5" text-anchor="middle" fill="#2b2b2b" stroke="#2b2b2b" stroke-width="0.12">*</text>
<polyline points="366.5,413 366.5,408.7 377.5,408.7 377.5,463.7" fill="none" stroke="#231f20" stroke-width="1" />
<text x="372.3" y="406.2" font-size="4.5" text-anchor="middle" fill="#2b2b2b" stroke="#2b2b2b" stroke-width="0.12">*</text>
<polyline points="399.5,379.2 399.5,375 410.8,375 410.8,382.3" fill="none" stroke="#231f20" stroke-width="1" />
<text x="405.6" y="373.2" font-size="4.6" text-anchor="middle" fill="#333" stroke="#333" stroke-width="0.12">ns</text>
<polyline points="432,371.5 432,366.2 443.5,366.2 443.5,396.2" fill="none" stroke="#231f20" stroke-width="1" />
<text x="438" y="363.8" font-size="4.6" text-anchor="middle" fill="#333" stroke="#333" stroke-width="0.12">ns</text>
<rect x="284.8" y="371.3" width="8.2" height="5.2" fill="#6aa642" />
<rect x="284.8" y="380" width="8.2" height="4.8" fill="#a3042b" />
<text x="296.3" y="375.8" font-size="5.4" fill="#333" stroke="#333" stroke-width="0.12" textLength="17.5" lengthAdjust="spacingAndGlyphs">Eu/TCL1</text>
<text x="296.3" y="384.3" font-size="5.4" fill="#333" stroke="#333" stroke-width="0.12" textLength="14.7" lengthAdjust="spacingAndGlyphs">DT-AID</text>
<text x="199.4" y="421.8" font-size="7.8" text-anchor="middle" fill="#2b2b2b" stroke="#2b2b2b" stroke-width="0.12" transform="rotate(-90 199.4 421.8)" textLength="42.9" lengthAdjust="spacingAndGlyphs">Mutations / Mb</text>
<line x1="32.35" y1="542.3" x2="32.35" y2="665.9" stroke="#231f20" stroke-width="1.3" />
<line x1="32.35" y1="665.3" x2="481" y2="665.3" stroke="#231f20" stroke-width="1.3" />
<line x1="29.35" y1="665.35" x2="32.35" y2="665.35" stroke="#231f20" stroke-width="1" />
<text x="26.4" y="667.45" font-size="6" text-anchor="end" fill="#2b2b2b" stroke="#2b2b2b" stroke-width="0.12">0</text>
<line x1="30.75" y1="657.3" x2="32.35" y2="657.3" stroke="#231f20" stroke-width="0.9" />
<line x1="30.75" y1="649.25" x2="32.35" y2="649.25" stroke="#231f20" stroke-width="0.9" />
<line x1="29.35" y1="641.2" x2="32.35" y2="641.2" stroke="#231f20" stroke-width="1" />
<text x="26.4" y="643.3" font-size="6" text-anchor="end" fill="#2b2b2b" stroke="#2b2b2b" stroke-width="0.12">5</text>
<line x1="30.75" y1="633.15" x2="32.35" y2="633.15" stroke="#231f20" stroke-width="0.9" />
<line x1="30.75" y1="625.1" x2="32.35" y2="625.1" stroke="#231f20" stroke-width="0.9" />
<line x1="29.35" y1="617.05" x2="32.35" y2="617.05" stroke="#231f20" stroke-width="1" />
<text x="26.4" y="619.15" font-size="6" text-anchor="end" fill="#2b2b2b" stroke="#2b2b2b" stroke-width="0.12">10</text>
<line x1="30.75" y1="609" x2="32.35" y2="609" stroke="#231f20" stroke-width="0.9" />
<line x1="30.75" y1="600.95" x2="32.35" y2="600.95" stroke="#231f20" stroke-width="0.9" />
<line x1="29.35" y1="592.9" x2="32.35" y2="592.9" stroke="#231f20" stroke-width="1" />
<text x="26.4" y="595" font-size="6" text-anchor="end" fill="#2b2b2b" stroke="#2b2b2b" stroke-width="0.12">15</text>
<line x1="30.75" y1="584.85" x2="32.35" y2="584.85" stroke="#231f20" stroke-width="0.9" />
<line x1="30.75" y1="576.8" x2="32.35" y2="576.8" stroke="#231f20" stroke-width="0.9" />
<line x1="29.35" y1="568.75" x2="32.35" y2="568.75" stroke="#231f20" stroke-width="1" />
<text x="26.4" y="570.85" font-size="6" text-anchor="end" fill="#2b2b2b" stroke="#2b2b2b" stroke-width="0.12">20</text>
<line x1="30.75" y1="560.7" x2="32.35" y2="560.7" stroke="#231f20" stroke-width="0.9" />
<line x1="30.75" y1="552.65" x2="32.35" y2="552.65" stroke="#231f20" stroke-width="0.9" />
<line x1="29.35" y1="544.6" x2="32.35" y2="544.6" stroke="#231f20" stroke-width="1" />
<text x="26.4" y="546.7" font-size="6" text-anchor="end" fill="#2b2b2b" stroke="#2b2b2b" stroke-width="0.12">25</text>
<line x1="39.1" y1="665.2" x2="39.1" y2="668.6" stroke="#231f20" stroke-width="1" />
<polygon points="39.1,550.81 43.2,557.91 35,557.91" fill="#fff" stroke="#a8092f" stroke-width="0.85" stroke-linejoin="round"/>
<polygon points="39.1,550.81 39.1,557.91 35,557.91" fill="#a8092f" stroke="#a8092f" stroke-width="0.6" stroke-linejoin="round"/>
<text x="44.61" y="547.9" font-size="5.5" font-weight="bold" fill="#a8092f" transform="rotate(-33.6 44.61 547.9)" textLength="18.7" lengthAdjust="spacingAndGlyphs" text-decoration="underline" stroke="#a8092f" stroke-width="0.22">Hist1h1e</text>
<line x1="52.3" y1="665.2" x2="52.3" y2="668.6" stroke="#231f20" stroke-width="1" />
<polygon points="52.3,555.64 55.85,559.19 52.3,562.74 48.75,559.19" fill="#000" />
<text x="57.28" y="556.2" font-size="5.5" fill="#3a3a3a" stroke="#3a3a3a" stroke-width="0.12" transform="rotate(-36.5 57.28 556.2)" textLength="25.8" lengthAdjust="spacingAndGlyphs">Hist2h2aa1/2</text>
<line x1="65.49" y1="665.2" x2="65.49" y2="668.6" stroke="#231f20" stroke-width="1" />
<polygon points="65.49,565.15 69.59,572.55 61.39,572.55" fill="#a8092f" />
<text x="72.03" y="564.7" font-size="5.5" font-weight="bold" fill="#111" transform="rotate(-35.6 72.03 564.7)" textLength="18.9" lengthAdjust="spacingAndGlyphs" text-decoration="underline" stroke="#111" stroke-width="0.22">Hist1h1d</text>
<line x1="78.69" y1="665.2" x2="78.69" y2="668.6" stroke="#231f20" stroke-width="1" />
<polygon points="78.69,584.52 82.99,591.82 74.39,591.82" fill="#fff" stroke="#a8092f" stroke-width="1.1" stroke-linejoin="round"/>
<text x="77.1" y="598.39" font-size="5.5" text-anchor="end" fill="#c23c62" stroke="#c23c62" stroke-width="0.12" transform="rotate(-37.1 77.1 598.39)" textLength="14.1" lengthAdjust="spacingAndGlyphs">Zfp36l2</text>
<line x1="91.89" y1="665.2" x2="91.89" y2="668.6" stroke="#231f20" stroke-width="1" />
<polygon points="91.89,589.45 95.99,596.55 87.79,596.55" fill="#fff" stroke="#a8092f" stroke-width="0.85" stroke-linejoin="round"/>
<polygon points="91.89,589.45 91.89,596.55 87.79,596.55" fill="#a8092f" stroke="#a8092f" stroke-width="0.6" stroke-linejoin="round"/>
<text x="94.09" y="585.5" font-size="5.5" font-weight="bold" fill="#a8092f" transform="rotate(-34.9 94.09 585.5)" textLength="18.3" lengthAdjust="spacingAndGlyphs" text-decoration="underline" stroke="#a8092f" stroke-width="0.22">Hist1h1c</text>
<line x1="105.08" y1="665.2" x2="105.08" y2="668.6" stroke="#231f20" stroke-width="1" />
<polygon points="105.08,599.11 108.63,602.66 105.08,606.21 101.53,602.66" fill="#000" />
<text x="106" y="612.98" font-size="5.5" text-anchor="end" font-weight="bold" fill="#111" transform="rotate(-34.8 106 612.98)" textLength="15.4" lengthAdjust="spacingAndGlyphs" stroke="#111" stroke-width="0.22">Bhlhe41</text>
<line x1="118.28" y1="665.2" x2="118.28" y2="668.6" stroke="#231f20" stroke-width="1" />
<polygon points="118.28,599.01 122.58,606.31 113.98,606.31" fill="#fff" stroke="#a8092f" stroke-width="1.1" stroke-linejoin="round"/>
<text x="117.55" y="594.1" font-size="5.5" fill="#c23c62" stroke="#c23c62" stroke-width="0.12" transform="rotate(-30 117.55 594.1)" textLength="13" lengthAdjust="spacingAndGlyphs">Clec2d</text>
<line x1="131.48" y1="665.2" x2="131.48" y2="668.6" stroke="#231f20" stroke-width="1" />
<polygon points="131.48,599.01 135.78,606.31 127.18,606.31" fill="#fff" stroke="#a8092f" stroke-width="1.1" stroke-linejoin="round"/>
<text x="131.5" y="615.18" font-size="5.5" text-anchor="end" fill="#c23c62" stroke="#c23c62" stroke-width="0.12" transform="rotate(-30 131.5 615.18)" textLength="14.9" lengthAdjust="spacingAndGlyphs">Tmsb4x</text>
<line x1="144.68" y1="665.2" x2="144.68" y2="668.6" stroke="#231f20" stroke-width="1" />
<polygon points="144.68,603.84 148.98,611.14 140.38,611.14" fill="#fff" stroke="#a8092f" stroke-width="1.1" stroke-linejoin="round"/>
<text x="147" y="618.85" font-size="5.5" text-anchor="end" fill="#c23c62" stroke="#c23c62" stroke-width="0.12" transform="rotate(-30 147 618.85)" textLength="13.9" lengthAdjust="spacingAndGlyphs">Igf2bp2</text>
<line x1="157.87" y1="665.2" x2="157.87" y2="668.6" stroke="#231f20" stroke-width="1" />
<polygon points="157.87,608.77 161.42,612.32 157.87,615.87 154.32,612.32" fill="#000" />
<text x="156.5" y="603.6" font-size="5.5" fill="#3a3a3a" stroke="#3a3a3a" stroke-width="0.12" transform="rotate(-31.6 156.5 603.6)" textLength="14.4" lengthAdjust="spacingAndGlyphs">Zbtb16</text>
<line x1="171.07" y1="665.2" x2="171.07" y2="668.6" stroke="#231f20" stroke-width="1" />
<polygon points="171.07,608.67 175.37,615.97 166.77,615.97" fill="#fff" stroke="#a8092f" stroke-width="1.1" stroke-linejoin="round"/>
<text x="173.27" y="602.2" font-size="5.5" fill="#c23c62" stroke="#c23c62" stroke-width="0.12" transform="rotate(-32.9 173.27 602.2)" textLength="16.4" lengthAdjust="spacingAndGlyphs">Apobec3</text>
<line x1="184.27" y1="665.2" x2="184.27" y2="668.6" stroke="#231f20" stroke-width="1" />
<polygon points="184.27,608.77 187.82,612.32 184.27,615.87 180.72,612.32" fill="#000" />
<text x="186.3" y="621.84" font-size="5.5" text-anchor="end" font-weight="bold" fill="#111" transform="rotate(-30.6 186.3 621.84)" textLength="12" lengthAdjust="spacingAndGlyphs" stroke="#111" stroke-width="0.22">Gata3</text>
<line x1="197.46" y1="665.2" x2="197.46" y2="668.6" stroke="#231f20" stroke-width="1" />
<polygon points="197.46,608.77 201.56,615.87 193.36,615.87" fill="#fff" stroke="#a8092f" stroke-width="0.85" stroke-linejoin="round"/>
<polygon points="197.46,608.77 197.46,615.87 193.36,615.87" fill="#a8092f" stroke="#a8092f" stroke-width="0.6" stroke-linejoin="round"/>
<text x="197.63" y="604" font-size="5.5" font-weight="bold" fill="#a8092f" transform="rotate(-35.7 197.63 604)" textLength="13.9" lengthAdjust="spacingAndGlyphs" text-decoration="underline" stroke="#a8092f" stroke-width="0.22">Pim1 *</text>
<line x1="210.66" y1="665.2" x2="210.66" y2="668.6" stroke="#231f20" stroke-width="1" />
<polygon points="210.66,608.77 214.21,612.32 210.66,615.87 207.11,612.32" fill="#000" />
<text x="211.4" y="622.18" font-size="5.5" text-anchor="end" font-weight="bold" fill="#111" transform="rotate(-37.3 211.4 622.18)" textLength="9.6" lengthAdjust="spacingAndGlyphs" stroke="#111" stroke-width="0.22">Sox4</text>
<line x1="223.86" y1="665.2" x2="223.86" y2="668.6" stroke="#231f20" stroke-width="1" />
<polygon points="223.86,613.5 228.16,620.8 219.56,620.8" fill="#fff" stroke="#a8092f" stroke-width="1.1" stroke-linejoin="round"/>
<text x="223.8" y="610.6" font-size="5.5" font-weight="bold" fill="#a8092f" transform="rotate(-35.1 223.8 610.6)" textLength="7.48" lengthAdjust="spacingAndGlyphs" stroke="#a8092f" stroke-width="0.22">Klf2</text>
<line x1="237.05" y1="665.2" x2="237.05" y2="668.6" stroke="#231f20" stroke-width="1" />
<polygon points="237.05,613.6 241.15,620.7 232.95,620.7" fill="#fff" stroke="#a8092f" stroke-width="0.85" stroke-linejoin="round"/>
<polygon points="237.05,613.6 237.05,620.7 232.95,620.7" fill="#a8092f" stroke="#a8092f" stroke-width="0.6" stroke-linejoin="round"/>
<text x="237.2" y="610.3" font-size="5.5" font-weight="bold" fill="#a8092f" transform="rotate(-42.5 237.2 610.3)" textLength="12.5" lengthAdjust="spacingAndGlyphs" stroke="#a8092f" stroke-width="0.22">Mcl1 *</text>
<line x1="250.25" y1="665.2" x2="250.25" y2="668.6" stroke="#231f20" stroke-width="1" />
<polygon points="250.25,618.43 253.8,621.98 250.25,625.53 246.7,621.98" fill="#000" />
<text x="248" y="627.86" font-size="5.5" text-anchor="end" font-weight="bold" fill="#111" transform="rotate(-50 248 627.86)" textLength="16" lengthAdjust="spacingAndGlyphs" stroke="#111" stroke-width="0.22">Nfatc1 *</text>
<line x1="263.45" y1="665.2" x2="263.45" y2="668.6" stroke="#231f20" stroke-width="1" />
<polygon points="263.45,623.26 267,626.81 263.45,630.36 259.9,626.81" fill="#000" />
<text x="265.62" y="619.3" font-size="5.5" fill="#3a3a3a" stroke="#3a3a3a" stroke-width="0.12" transform="rotate(-44.8 265.62 619.3)" textLength="22" lengthAdjust="spacingAndGlyphs">Hist1h4m/n</text>
<line x1="276.65" y1="665.2" x2="276.65" y2="668.6" stroke="#231f20" stroke-width="1" />
<polygon points="276.65,623.26 280.2,626.81 276.65,630.36 273.1,626.81" fill="#000" />
<text x="274.2" y="634.46" font-size="5.5" text-anchor="end" fill="#3a3a3a" stroke="#3a3a3a" stroke-width="0.12" transform="rotate(-40.2 274.2 634.46)" textLength="15.4" lengthAdjust="spacingAndGlyphs">Cmtm1</text>
<line x1="289.84" y1="665.2" x2="289.84" y2="668.6" stroke="#231f20" stroke-width="1" />
<polygon points="289.84,623.26 293.94,630.36 285.74,630.36" fill="#fff" stroke="#a8092f" stroke-width="0.85" stroke-linejoin="round"/>
<polygon points="289.84,623.26 289.84,630.36 285.74,630.36" fill="#a8092f" stroke="#a8092f" stroke-width="0.6" stroke-linejoin="round"/>
<text x="292.23" y="621.8" font-size="5.5" font-weight="bold" fill="#a8092f" transform="rotate(-43 292.23 621.8)" textLength="12.6" lengthAdjust="spacingAndGlyphs" stroke="#a8092f" stroke-width="0.22">Dusp2</text>
<line x1="303.04" y1="665.2" x2="303.04" y2="668.6" stroke="#231f20" stroke-width="1" />
<polygon points="303.04,628.09 306.59,631.64 303.04,635.19 299.49,631.64" fill="#000" />
<text x="302.3" y="640.04" font-size="5.5" text-anchor="end" fill="#3a3a3a" stroke="#3a3a3a" stroke-width="0.12" transform="rotate(-40.6 302.3 640.04)" textLength="19.9" lengthAdjust="spacingAndGlyphs">Hist1h2bc</text>
<line x1="316.24" y1="665.2" x2="316.24" y2="668.6" stroke="#231f20" stroke-width="1" />
<polygon points="316.24,627.99 320.54,635.29 311.94,635.29" fill="#fff" stroke="#a8092f" stroke-width="1.1" stroke-linejoin="round"/>
<text x="317.29" y="625.3" font-size="5.5" fill="#c23c62" stroke="#c23c62" stroke-width="0.12" transform="rotate(-46.3 317.29 625.3)" textLength="16.5" lengthAdjust="spacingAndGlyphs">Hist1h3e</text>
<line x1="329.43" y1="665.2" x2="329.43" y2="668.6" stroke="#231f20" stroke-width="1" />
<polygon points="329.43,628.09 332.98,631.64 329.43,635.19 325.88,631.64" fill="#000" />
<text x="329.2" y="641.09" font-size="5.5" text-anchor="end" font-weight="bold" fill="#111" transform="rotate(-47.7 329.2 641.09)" textLength="10.78" lengthAdjust="spacingAndGlyphs" stroke="#111" stroke-width="0.22">Lef1 *</text>
<line x1="342.63" y1="665.2" x2="342.63" y2="668.6" stroke="#231f20" stroke-width="1" />
<polygon points="342.63,627.99 346.93,635.29 338.33,635.29" fill="#fff" stroke="#a8092f" stroke-width="1.1" stroke-linejoin="round"/>
<text x="341.53" y="623.1" font-size="5.5" font-weight="bold" fill="#a8092f" transform="rotate(-30.5 341.53 623.1)" textLength="7.7" lengthAdjust="spacingAndGlyphs" stroke="#a8092f" stroke-width="0.22">Myc</text>
<line x1="355.83" y1="665.2" x2="355.83" y2="668.6" stroke="#231f20" stroke-width="1" />
<polygon points="355.83,628.09 359.38,631.64 355.83,635.19 352.28,631.64" fill="#000" />
<text x="356.6" y="641.88" font-size="5.5" text-anchor="end" font-weight="bold" fill="#111" transform="rotate(-39.7 356.6 641.88)" textLength="7.85" lengthAdjust="spacingAndGlyphs" stroke="#111" stroke-width="0.22">Tcf7</text>
<line x1="369.02" y1="665.2" x2="369.02" y2="668.6" stroke="#231f20" stroke-width="1" />
<polygon points="369.02,632.92 372.57,636.47 369.02,640.02 365.47,636.47" fill="#000" />
<text x="371.15" y="628.9" font-size="5.5" fill="#3a3a3a" stroke="#3a3a3a" stroke-width="0.12" transform="rotate(-45.4 371.15 628.9)" textLength="23.7" lengthAdjust="spacingAndGlyphs">Hist2h3c1/2</text>
<line x1="382.22" y1="665.2" x2="382.22" y2="668.6" stroke="#231f20" stroke-width="1" />
<polygon points="382.22,632.82 386.52,640.12 377.92,640.12" fill="#fff" stroke="#a8092f" stroke-width="1.1" stroke-linejoin="round"/>
<text x="383.15" y="629.9" font-size="5.5" fill="#c23c62" stroke="#c23c62" stroke-width="0.12" transform="rotate(-43.5 383.15 629.9)" textLength="12.2" lengthAdjust="spacingAndGlyphs">Man1a</text>
<line x1="395.42" y1="665.2" x2="395.42" y2="668.6" stroke="#231f20" stroke-width="1" />
<polygon points="395.42,632.82 399.72,640.12 391.12,640.12" fill="#fff" stroke="#a8092f" stroke-width="1.1" stroke-linejoin="round"/>
<text x="397.2" y="647.3" font-size="5.5" text-anchor="end" fill="#c23c62" stroke="#c23c62" stroke-width="0.12" transform="rotate(-43.5 397.2 647.3)" textLength="12.2" lengthAdjust="spacingAndGlyphs">Mir142</text>
<line x1="408.62" y1="665.2" x2="408.62" y2="668.6" stroke="#231f20" stroke-width="1" />
<polygon points="408.62,632.92 412.17,636.47 408.62,640.02 405.07,636.47" fill="#000" />
<text x="409.88" y="629.9" font-size="5.5" fill="#3a3a3a" stroke="#3a3a3a" stroke-width="0.12" transform="rotate(-40.2 409.88 629.9)" textLength="12.8" lengthAdjust="spacingAndGlyphs">Rpl27a</text>
<line x1="421.81" y1="665.2" x2="421.81" y2="668.6" stroke="#231f20" stroke-width="1" />
<polygon points="421.81,637.75 425.36,641.3 421.81,644.85 418.26,641.3" fill="#000" />
<text x="422.74" y="634.3" font-size="5.5" fill="#3a3a3a" stroke="#3a3a3a" stroke-width="0.12" transform="rotate(-41.3 422.74 634.3)" textLength="12" lengthAdjust="spacingAndGlyphs">Bcl11b</text>
<line x1="435.01" y1="665.2" x2="435.01" y2="668.6" stroke="#231f20" stroke-width="1" />
<polygon points="435.01,637.65 439.31,644.95 430.71,644.95" fill="#fff" stroke="#a8092f" stroke-width="1.1" stroke-linejoin="round"/>
<text x="436.39" y="632.6" font-size="5.5" fill="#c23c62" stroke="#c23c62" stroke-width="0.12" transform="rotate(-42.2 436.39 632.6)" textLength="10.34" lengthAdjust="spacingAndGlyphs">H2afx</text>
<line x1="448.21" y1="665.2" x2="448.21" y2="668.6" stroke="#231f20" stroke-width="1" />
<polygon points="448.21,637.75 451.76,641.3 448.21,644.85 444.66,641.3" fill="#000" />
<text x="448.98" y="633.6" font-size="5.5" fill="#3a3a3a" stroke="#3a3a3a" stroke-width="0.12" transform="rotate(-42.1 448.98 633.6)" textLength="16.9" lengthAdjust="spacingAndGlyphs">Hist1h3d</text>
<line x1="461.4" y1="665.2" x2="461.4" y2="668.6" stroke="#231f20" stroke-width="1" />
<polygon points="461.4,637.65 465.7,644.95 457.1,644.95" fill="#fff" stroke="#a8092f" stroke-width="1.1" stroke-linejoin="round"/>
<text x="463.21" y="631.2" font-size="5.5" font-weight="bold" fill="#a8092f" transform="rotate(-38.8 463.21 631.2)" textLength="8.2" lengthAdjust="spacingAndGlyphs" stroke="#a8092f" stroke-width="0.22">Lyl1</text>
<line x1="474.6" y1="665.2" x2="474.6" y2="668.6" stroke="#231f20" stroke-width="1" />
<polygon points="474.6,637.65 478.9,644.95 470.3,644.95" fill="#fff" stroke="#a8092f" stroke-width="1.1" stroke-linejoin="round"/>
<text x="476.27" y="633.4" font-size="5.5" font-weight="bold" fill="#a8092f" transform="rotate(-50 476.27 633.4)" textLength="11.22" lengthAdjust="spacingAndGlyphs" stroke="#a8092f" stroke-width="0.22">Pten *</text>
<text x="160.6" y="536.6" font-size="9.6" font-style="italic" fill="#2b2b2b" stroke="#2b2b2b" stroke-width="0.12" textLength="193.7" lengthAdjust="spacingAndGlyphs">Main AID off-target genes in the DT-AID model</text>
<text x="247.7" y="678.5" font-size="8.3" fill="#2b2b2b" stroke="#2b2b2b" stroke-width="0.12" textLength="17.7" lengthAdjust="spacingAndGlyphs">Genes</text>
<text x="14.5" y="603.6" font-size="7.9" text-anchor="middle" fill="#2b2b2b" stroke="#2b2b2b" stroke-width="0.12" transform="rotate(-90 14.5 603.6)" textLength="49.2" lengthAdjust="spacingAndGlyphs">Mutation number</text>
<polygon points="421.4,544.8 425.5,552 417.3,552" fill="#a8092f" />
<polygon points="421.5,557.85 425.8,565.45 417.2,565.45" fill="#fff" stroke="#a8092f" stroke-width="1.1" stroke-linejoin="round"/>
<polygon points="421.5,571.95 425.5,578.95 417.5,578.95" fill="#fff" stroke="#a8092f" stroke-width="0.85" stroke-linejoin="round"/>
<polygon points="421.5,571.95 421.5,578.95 417.5,578.95" fill="#a8092f" stroke="#a8092f" stroke-width="0.6" stroke-linejoin="round"/>
<text x="428.8" y="549.9" font-size="5" fill="#333" stroke="#333" stroke-width="0.12" textLength="64.7" lengthAdjust="spacingAndGlyphs">Gene drivers in CLL and DLBCL</text>
<text x="428.8" y="563.6" font-size="5" fill="#333" stroke="#333" stroke-width="0.12" textLength="57.8" lengthAdjust="spacingAndGlyphs">AID off-target genes in mice</text>
<text x="428.8" y="577" font-size="5" fill="#333" stroke="#333" stroke-width="0.12" textLength="40" lengthAdjust="spacingAndGlyphs">Both characteristics</text>
<rect x="0.55" y="0.55" width="518.9" height="684.9" fill="none" stroke="#000" stroke-width="1.3"/>
</svg>
</body></html>
